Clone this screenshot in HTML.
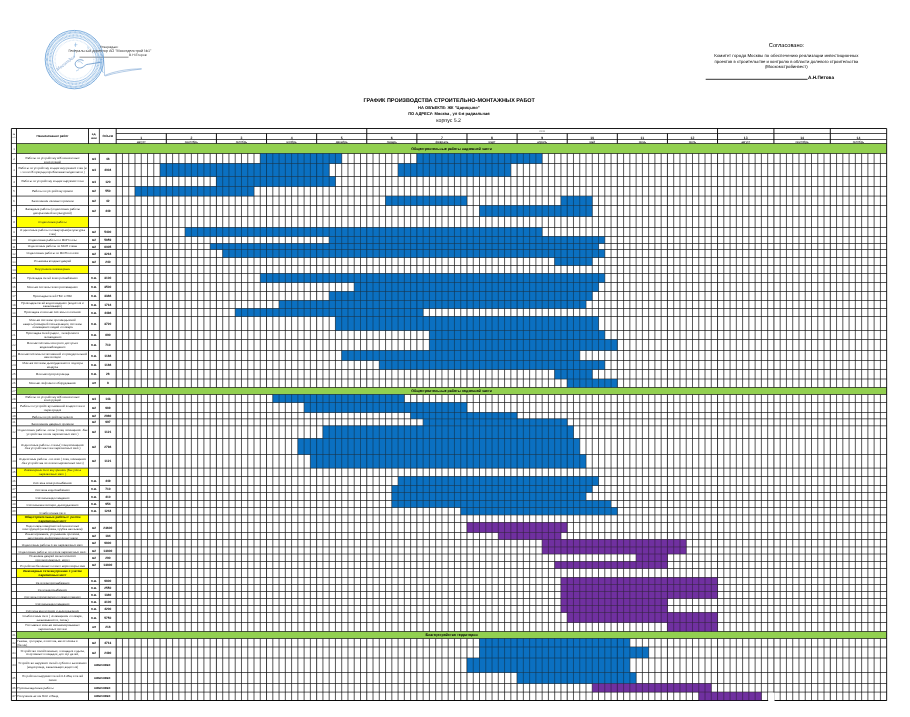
<!DOCTYPE html>
<html lang="ru"><head><meta charset="utf-8"><title>График производства строительно-монтажных работ</title>
<style>html,body{margin:0;padding:0;background:#fff}body{width:910px;height:717px;overflow:hidden}svg{display:block}</style></head><body>
<svg width="910" height="717" viewBox="0 0 910 717" font-family="'Liberation Sans', sans-serif">
<defs><filter id="gs" x="0" y="0" width="910" height="717" filterUnits="userSpaceOnUse" color-interpolation-filters="sRGB"><feColorMatrix type="saturate" values="1"/></filter></defs>
<rect width="910" height="717" fill="#fff"/>
<rect x="16.50" y="143.50" width="870.17" height="10.00" fill="#92d050"/>
<rect x="260.27" y="153.50" width="81.43" height="10.00" fill="#0b70c2"/>
<rect x="416.87" y="153.50" width="125.28" height="10.00" fill="#0b70c2"/>
<rect x="160.05" y="163.50" width="169.13" height="13.00" fill="#0b70c2"/>
<rect x="398.08" y="163.50" width="112.75" height="13.00" fill="#0b70c2"/>
<rect x="216.42" y="176.50" width="119.02" height="10.00" fill="#0b70c2"/>
<rect x="134.99" y="186.50" width="119.02" height="9.60" fill="#0b70c2"/>
<rect x="385.55" y="196.10" width="81.43" height="9.40" fill="#0b70c2"/>
<rect x="560.94" y="196.10" width="31.32" height="9.40" fill="#0b70c2"/>
<rect x="479.51" y="205.50" width="112.75" height="11.00" fill="#0b70c2"/>
<rect x="16.50" y="216.50" width="72.00" height="11.00" fill="#ffff00"/>
<rect x="185.10" y="227.50" width="357.05" height="9.00" fill="#0b70c2"/>
<rect x="329.18" y="236.50" width="275.62" height="7.00" fill="#0b70c2"/>
<rect x="210.16" y="243.50" width="388.37" height="6.00" fill="#0b70c2"/>
<rect x="222.69" y="249.50" width="382.10" height="8.00" fill="#0b70c2"/>
<rect x="554.68" y="257.50" width="37.58" height="8.00" fill="#0b70c2"/>
<rect x="16.50" y="265.50" width="72.00" height="8.00" fill="#ffff00"/>
<rect x="260.27" y="273.50" width="344.52" height="9.00" fill="#0b70c2"/>
<rect x="354.23" y="282.50" width="244.30" height="9.00" fill="#0b70c2"/>
<rect x="329.18" y="291.50" width="263.09" height="9.00" fill="#0b70c2"/>
<rect x="279.06" y="300.50" width="306.94" height="8.00" fill="#0b70c2"/>
<rect x="235.22" y="308.50" width="187.92" height="8.00" fill="#0b70c2"/>
<rect x="335.44" y="316.50" width="263.09" height="14.00" fill="#0b70c2"/>
<rect x="429.40" y="330.50" width="175.39" height="9.00" fill="#0b70c2"/>
<rect x="429.40" y="339.50" width="187.92" height="11.00" fill="#0b70c2"/>
<rect x="341.70" y="350.50" width="238.03" height="10.00" fill="#0b70c2"/>
<rect x="379.29" y="360.50" width="225.50" height="9.00" fill="#0b70c2"/>
<rect x="554.68" y="369.50" width="37.58" height="9.50" fill="#0b70c2"/>
<rect x="567.21" y="379.00" width="50.11" height="8.50" fill="#0b70c2"/>
<rect x="16.50" y="387.50" width="870.17" height="7.00" fill="#92d050"/>
<rect x="272.80" y="394.50" width="131.54" height="8.00" fill="#0b70c2"/>
<rect x="304.12" y="402.50" width="162.86" height="10.00" fill="#0b70c2"/>
<rect x="410.61" y="412.50" width="106.49" height="6.30" fill="#0b70c2"/>
<rect x="423.14" y="418.80" width="144.07" height="7.00" fill="#0b70c2"/>
<rect x="322.91" y="425.80" width="250.56" height="12.70" fill="#0b70c2"/>
<rect x="297.86" y="438.50" width="281.88" height="16.00" fill="#0b70c2"/>
<rect x="310.38" y="454.50" width="275.62" height="13.60" fill="#0b70c2"/>
<rect x="16.50" y="468.10" width="72.00" height="8.40" fill="#ffff00"/>
<rect x="398.08" y="476.50" width="200.45" height="9.00" fill="#0b70c2"/>
<rect x="391.82" y="485.50" width="200.45" height="7.00" fill="#0b70c2"/>
<rect x="391.82" y="492.50" width="194.18" height="8.00" fill="#0b70c2"/>
<rect x="391.82" y="500.50" width="219.24" height="7.00" fill="#0b70c2"/>
<rect x="460.72" y="507.50" width="156.60" height="7.40" fill="#0b70c2"/>
<rect x="16.50" y="514.90" width="72.00" height="7.60" fill="#ffff00"/>
<rect x="466.98" y="522.50" width="100.22" height="10.00" fill="#7030a0"/>
<rect x="498.30" y="532.50" width="62.64" height="7.00" fill="#7030a0"/>
<rect x="542.15" y="539.50" width="144.07" height="7.40" fill="#7030a0"/>
<rect x="542.15" y="546.90" width="144.07" height="7.10" fill="#7030a0"/>
<rect x="636.11" y="554.00" width="31.32" height="7.50" fill="#7030a0"/>
<rect x="554.68" y="561.50" width="112.75" height="7.00" fill="#7030a0"/>
<rect x="16.50" y="568.50" width="72.00" height="9.00" fill="#ffff00"/>
<rect x="560.94" y="577.50" width="156.60" height="7.00" fill="#7030a0"/>
<rect x="560.94" y="584.50" width="156.60" height="7.00" fill="#7030a0"/>
<rect x="560.94" y="591.50" width="156.60" height="7.00" fill="#7030a0"/>
<rect x="560.94" y="598.50" width="106.49" height="7.00" fill="#7030a0"/>
<rect x="560.94" y="605.50" width="106.49" height="7.00" fill="#7030a0"/>
<rect x="567.21" y="612.50" width="150.34" height="10.00" fill="#7030a0"/>
<rect x="667.43" y="622.50" width="50.11" height="9.00" fill="#7030a0"/>
<rect x="16.50" y="631.50" width="870.17" height="7.00" fill="#92d050"/>
<rect x="479.51" y="638.50" width="150.34" height="8.50" fill="#0b70c2"/>
<rect x="479.51" y="647.00" width="169.13" height="11.00" fill="#0b70c2"/>
<rect x="466.98" y="658.00" width="162.86" height="14.50" fill="#0b70c2"/>
<rect x="517.10" y="672.50" width="119.02" height="11.00" fill="#0b70c2"/>
<rect x="592.26" y="683.50" width="119.02" height="8.60" fill="#7030a0"/>
<rect x="698.75" y="692.10" width="62.64" height="8.40" fill="#7030a0"/>
<line x1="122.46" y1="153.50" x2="122.46" y2="387.50" stroke="#111" stroke-width="0.7"/>
<line x1="122.46" y1="394.50" x2="122.46" y2="631.50" stroke="#111" stroke-width="0.7"/>
<line x1="122.46" y1="638.50" x2="122.46" y2="700.50" stroke="#111" stroke-width="0.7"/>
<line x1="128.73" y1="153.50" x2="128.73" y2="387.50" stroke="#111" stroke-width="0.7"/>
<line x1="128.73" y1="394.50" x2="128.73" y2="631.50" stroke="#111" stroke-width="0.7"/>
<line x1="128.73" y1="638.50" x2="128.73" y2="700.50" stroke="#111" stroke-width="0.7"/>
<line x1="134.99" y1="153.50" x2="134.99" y2="387.50" stroke="#111" stroke-width="0.7"/>
<line x1="134.99" y1="394.50" x2="134.99" y2="631.50" stroke="#111" stroke-width="0.7"/>
<line x1="134.99" y1="638.50" x2="134.99" y2="700.50" stroke="#111" stroke-width="0.7"/>
<line x1="141.26" y1="153.50" x2="141.26" y2="387.50" stroke="#111" stroke-width="0.7"/>
<line x1="141.26" y1="394.50" x2="141.26" y2="631.50" stroke="#111" stroke-width="0.7"/>
<line x1="141.26" y1="638.50" x2="141.26" y2="700.50" stroke="#111" stroke-width="0.7"/>
<line x1="147.52" y1="153.50" x2="147.52" y2="387.50" stroke="#111" stroke-width="0.7"/>
<line x1="147.52" y1="394.50" x2="147.52" y2="631.50" stroke="#111" stroke-width="0.7"/>
<line x1="147.52" y1="638.50" x2="147.52" y2="700.50" stroke="#111" stroke-width="0.7"/>
<line x1="153.78" y1="153.50" x2="153.78" y2="387.50" stroke="#111" stroke-width="0.7"/>
<line x1="153.78" y1="394.50" x2="153.78" y2="631.50" stroke="#111" stroke-width="0.7"/>
<line x1="153.78" y1="638.50" x2="153.78" y2="700.50" stroke="#111" stroke-width="0.7"/>
<line x1="160.05" y1="153.50" x2="160.05" y2="387.50" stroke="#111" stroke-width="0.7"/>
<line x1="160.05" y1="394.50" x2="160.05" y2="631.50" stroke="#111" stroke-width="0.7"/>
<line x1="160.05" y1="638.50" x2="160.05" y2="700.50" stroke="#111" stroke-width="0.7"/>
<line x1="172.58" y1="153.50" x2="172.58" y2="387.50" stroke="#111" stroke-width="0.7"/>
<line x1="172.58" y1="394.50" x2="172.58" y2="631.50" stroke="#111" stroke-width="0.7"/>
<line x1="172.58" y1="638.50" x2="172.58" y2="700.50" stroke="#111" stroke-width="0.7"/>
<line x1="178.84" y1="153.50" x2="178.84" y2="387.50" stroke="#111" stroke-width="0.7"/>
<line x1="178.84" y1="394.50" x2="178.84" y2="631.50" stroke="#111" stroke-width="0.7"/>
<line x1="178.84" y1="638.50" x2="178.84" y2="700.50" stroke="#111" stroke-width="0.7"/>
<line x1="185.10" y1="153.50" x2="185.10" y2="387.50" stroke="#111" stroke-width="0.7"/>
<line x1="185.10" y1="394.50" x2="185.10" y2="631.50" stroke="#111" stroke-width="0.7"/>
<line x1="185.10" y1="638.50" x2="185.10" y2="700.50" stroke="#111" stroke-width="0.7"/>
<line x1="191.37" y1="153.50" x2="191.37" y2="387.50" stroke="#111" stroke-width="0.7"/>
<line x1="191.37" y1="394.50" x2="191.37" y2="631.50" stroke="#111" stroke-width="0.7"/>
<line x1="191.37" y1="638.50" x2="191.37" y2="700.50" stroke="#111" stroke-width="0.7"/>
<line x1="197.63" y1="153.50" x2="197.63" y2="387.50" stroke="#111" stroke-width="0.7"/>
<line x1="197.63" y1="394.50" x2="197.63" y2="631.50" stroke="#111" stroke-width="0.7"/>
<line x1="197.63" y1="638.50" x2="197.63" y2="700.50" stroke="#111" stroke-width="0.7"/>
<line x1="203.90" y1="153.50" x2="203.90" y2="387.50" stroke="#111" stroke-width="0.7"/>
<line x1="203.90" y1="394.50" x2="203.90" y2="631.50" stroke="#111" stroke-width="0.7"/>
<line x1="203.90" y1="638.50" x2="203.90" y2="700.50" stroke="#111" stroke-width="0.7"/>
<line x1="210.16" y1="153.50" x2="210.16" y2="387.50" stroke="#111" stroke-width="0.7"/>
<line x1="210.16" y1="394.50" x2="210.16" y2="631.50" stroke="#111" stroke-width="0.7"/>
<line x1="210.16" y1="638.50" x2="210.16" y2="700.50" stroke="#111" stroke-width="0.7"/>
<line x1="222.69" y1="153.50" x2="222.69" y2="387.50" stroke="#111" stroke-width="0.7"/>
<line x1="222.69" y1="394.50" x2="222.69" y2="631.50" stroke="#111" stroke-width="0.7"/>
<line x1="222.69" y1="638.50" x2="222.69" y2="700.50" stroke="#111" stroke-width="0.7"/>
<line x1="228.95" y1="153.50" x2="228.95" y2="387.50" stroke="#111" stroke-width="0.7"/>
<line x1="228.95" y1="394.50" x2="228.95" y2="631.50" stroke="#111" stroke-width="0.7"/>
<line x1="228.95" y1="638.50" x2="228.95" y2="700.50" stroke="#111" stroke-width="0.7"/>
<line x1="235.22" y1="153.50" x2="235.22" y2="387.50" stroke="#111" stroke-width="0.7"/>
<line x1="235.22" y1="394.50" x2="235.22" y2="631.50" stroke="#111" stroke-width="0.7"/>
<line x1="235.22" y1="638.50" x2="235.22" y2="700.50" stroke="#111" stroke-width="0.7"/>
<line x1="241.48" y1="153.50" x2="241.48" y2="387.50" stroke="#111" stroke-width="0.7"/>
<line x1="241.48" y1="394.50" x2="241.48" y2="631.50" stroke="#111" stroke-width="0.7"/>
<line x1="241.48" y1="638.50" x2="241.48" y2="700.50" stroke="#111" stroke-width="0.7"/>
<line x1="247.74" y1="153.50" x2="247.74" y2="387.50" stroke="#111" stroke-width="0.7"/>
<line x1="247.74" y1="394.50" x2="247.74" y2="631.50" stroke="#111" stroke-width="0.7"/>
<line x1="247.74" y1="638.50" x2="247.74" y2="700.50" stroke="#111" stroke-width="0.7"/>
<line x1="254.01" y1="153.50" x2="254.01" y2="387.50" stroke="#111" stroke-width="0.7"/>
<line x1="254.01" y1="394.50" x2="254.01" y2="631.50" stroke="#111" stroke-width="0.7"/>
<line x1="254.01" y1="638.50" x2="254.01" y2="700.50" stroke="#111" stroke-width="0.7"/>
<line x1="260.27" y1="153.50" x2="260.27" y2="387.50" stroke="#111" stroke-width="0.7"/>
<line x1="260.27" y1="394.50" x2="260.27" y2="631.50" stroke="#111" stroke-width="0.7"/>
<line x1="260.27" y1="638.50" x2="260.27" y2="700.50" stroke="#111" stroke-width="0.7"/>
<line x1="272.80" y1="153.50" x2="272.80" y2="387.50" stroke="#111" stroke-width="0.7"/>
<line x1="272.80" y1="394.50" x2="272.80" y2="631.50" stroke="#111" stroke-width="0.7"/>
<line x1="272.80" y1="638.50" x2="272.80" y2="700.50" stroke="#111" stroke-width="0.7"/>
<line x1="279.06" y1="153.50" x2="279.06" y2="387.50" stroke="#111" stroke-width="0.7"/>
<line x1="279.06" y1="394.50" x2="279.06" y2="631.50" stroke="#111" stroke-width="0.7"/>
<line x1="279.06" y1="638.50" x2="279.06" y2="700.50" stroke="#111" stroke-width="0.7"/>
<line x1="285.33" y1="153.50" x2="285.33" y2="387.50" stroke="#111" stroke-width="0.7"/>
<line x1="285.33" y1="394.50" x2="285.33" y2="631.50" stroke="#111" stroke-width="0.7"/>
<line x1="285.33" y1="638.50" x2="285.33" y2="700.50" stroke="#111" stroke-width="0.7"/>
<line x1="291.59" y1="153.50" x2="291.59" y2="387.50" stroke="#111" stroke-width="0.7"/>
<line x1="291.59" y1="394.50" x2="291.59" y2="631.50" stroke="#111" stroke-width="0.7"/>
<line x1="291.59" y1="638.50" x2="291.59" y2="700.50" stroke="#111" stroke-width="0.7"/>
<line x1="297.86" y1="153.50" x2="297.86" y2="387.50" stroke="#111" stroke-width="0.7"/>
<line x1="297.86" y1="394.50" x2="297.86" y2="631.50" stroke="#111" stroke-width="0.7"/>
<line x1="297.86" y1="638.50" x2="297.86" y2="700.50" stroke="#111" stroke-width="0.7"/>
<line x1="304.12" y1="153.50" x2="304.12" y2="387.50" stroke="#111" stroke-width="0.7"/>
<line x1="304.12" y1="394.50" x2="304.12" y2="631.50" stroke="#111" stroke-width="0.7"/>
<line x1="304.12" y1="638.50" x2="304.12" y2="700.50" stroke="#111" stroke-width="0.7"/>
<line x1="310.38" y1="153.50" x2="310.38" y2="387.50" stroke="#111" stroke-width="0.7"/>
<line x1="310.38" y1="394.50" x2="310.38" y2="631.50" stroke="#111" stroke-width="0.7"/>
<line x1="310.38" y1="638.50" x2="310.38" y2="700.50" stroke="#111" stroke-width="0.7"/>
<line x1="322.91" y1="153.50" x2="322.91" y2="387.50" stroke="#111" stroke-width="0.7"/>
<line x1="322.91" y1="394.50" x2="322.91" y2="631.50" stroke="#111" stroke-width="0.7"/>
<line x1="322.91" y1="638.50" x2="322.91" y2="700.50" stroke="#111" stroke-width="0.7"/>
<line x1="329.18" y1="153.50" x2="329.18" y2="387.50" stroke="#111" stroke-width="0.7"/>
<line x1="329.18" y1="394.50" x2="329.18" y2="631.50" stroke="#111" stroke-width="0.7"/>
<line x1="329.18" y1="638.50" x2="329.18" y2="700.50" stroke="#111" stroke-width="0.7"/>
<line x1="335.44" y1="153.50" x2="335.44" y2="387.50" stroke="#111" stroke-width="0.7"/>
<line x1="335.44" y1="394.50" x2="335.44" y2="631.50" stroke="#111" stroke-width="0.7"/>
<line x1="335.44" y1="638.50" x2="335.44" y2="700.50" stroke="#111" stroke-width="0.7"/>
<line x1="341.70" y1="153.50" x2="341.70" y2="387.50" stroke="#111" stroke-width="0.7"/>
<line x1="341.70" y1="394.50" x2="341.70" y2="631.50" stroke="#111" stroke-width="0.7"/>
<line x1="341.70" y1="638.50" x2="341.70" y2="700.50" stroke="#111" stroke-width="0.7"/>
<line x1="347.97" y1="153.50" x2="347.97" y2="387.50" stroke="#111" stroke-width="0.7"/>
<line x1="347.97" y1="394.50" x2="347.97" y2="631.50" stroke="#111" stroke-width="0.7"/>
<line x1="347.97" y1="638.50" x2="347.97" y2="700.50" stroke="#111" stroke-width="0.7"/>
<line x1="354.23" y1="153.50" x2="354.23" y2="387.50" stroke="#111" stroke-width="0.7"/>
<line x1="354.23" y1="394.50" x2="354.23" y2="631.50" stroke="#111" stroke-width="0.7"/>
<line x1="354.23" y1="638.50" x2="354.23" y2="700.50" stroke="#111" stroke-width="0.7"/>
<line x1="360.50" y1="153.50" x2="360.50" y2="387.50" stroke="#111" stroke-width="0.7"/>
<line x1="360.50" y1="394.50" x2="360.50" y2="631.50" stroke="#111" stroke-width="0.7"/>
<line x1="360.50" y1="638.50" x2="360.50" y2="700.50" stroke="#111" stroke-width="0.7"/>
<line x1="373.02" y1="153.50" x2="373.02" y2="387.50" stroke="#111" stroke-width="0.7"/>
<line x1="373.02" y1="394.50" x2="373.02" y2="631.50" stroke="#111" stroke-width="0.7"/>
<line x1="373.02" y1="638.50" x2="373.02" y2="700.50" stroke="#111" stroke-width="0.7"/>
<line x1="379.29" y1="153.50" x2="379.29" y2="387.50" stroke="#111" stroke-width="0.7"/>
<line x1="379.29" y1="394.50" x2="379.29" y2="631.50" stroke="#111" stroke-width="0.7"/>
<line x1="379.29" y1="638.50" x2="379.29" y2="700.50" stroke="#111" stroke-width="0.7"/>
<line x1="385.55" y1="153.50" x2="385.55" y2="387.50" stroke="#111" stroke-width="0.7"/>
<line x1="385.55" y1="394.50" x2="385.55" y2="631.50" stroke="#111" stroke-width="0.7"/>
<line x1="385.55" y1="638.50" x2="385.55" y2="700.50" stroke="#111" stroke-width="0.7"/>
<line x1="391.82" y1="153.50" x2="391.82" y2="387.50" stroke="#111" stroke-width="0.7"/>
<line x1="391.82" y1="394.50" x2="391.82" y2="631.50" stroke="#111" stroke-width="0.7"/>
<line x1="391.82" y1="638.50" x2="391.82" y2="700.50" stroke="#111" stroke-width="0.7"/>
<line x1="398.08" y1="153.50" x2="398.08" y2="387.50" stroke="#111" stroke-width="0.7"/>
<line x1="398.08" y1="394.50" x2="398.08" y2="631.50" stroke="#111" stroke-width="0.7"/>
<line x1="398.08" y1="638.50" x2="398.08" y2="700.50" stroke="#111" stroke-width="0.7"/>
<line x1="404.34" y1="153.50" x2="404.34" y2="387.50" stroke="#111" stroke-width="0.7"/>
<line x1="404.34" y1="394.50" x2="404.34" y2="631.50" stroke="#111" stroke-width="0.7"/>
<line x1="404.34" y1="638.50" x2="404.34" y2="700.50" stroke="#111" stroke-width="0.7"/>
<line x1="410.61" y1="153.50" x2="410.61" y2="387.50" stroke="#111" stroke-width="0.7"/>
<line x1="410.61" y1="394.50" x2="410.61" y2="631.50" stroke="#111" stroke-width="0.7"/>
<line x1="410.61" y1="638.50" x2="410.61" y2="700.50" stroke="#111" stroke-width="0.7"/>
<line x1="423.14" y1="153.50" x2="423.14" y2="387.50" stroke="#111" stroke-width="0.7"/>
<line x1="423.14" y1="394.50" x2="423.14" y2="631.50" stroke="#111" stroke-width="0.7"/>
<line x1="423.14" y1="638.50" x2="423.14" y2="700.50" stroke="#111" stroke-width="0.7"/>
<line x1="429.40" y1="153.50" x2="429.40" y2="387.50" stroke="#111" stroke-width="0.7"/>
<line x1="429.40" y1="394.50" x2="429.40" y2="631.50" stroke="#111" stroke-width="0.7"/>
<line x1="429.40" y1="638.50" x2="429.40" y2="700.50" stroke="#111" stroke-width="0.7"/>
<line x1="435.66" y1="153.50" x2="435.66" y2="387.50" stroke="#111" stroke-width="0.7"/>
<line x1="435.66" y1="394.50" x2="435.66" y2="631.50" stroke="#111" stroke-width="0.7"/>
<line x1="435.66" y1="638.50" x2="435.66" y2="700.50" stroke="#111" stroke-width="0.7"/>
<line x1="441.93" y1="153.50" x2="441.93" y2="387.50" stroke="#111" stroke-width="0.7"/>
<line x1="441.93" y1="394.50" x2="441.93" y2="631.50" stroke="#111" stroke-width="0.7"/>
<line x1="441.93" y1="638.50" x2="441.93" y2="700.50" stroke="#111" stroke-width="0.7"/>
<line x1="448.19" y1="153.50" x2="448.19" y2="387.50" stroke="#111" stroke-width="0.7"/>
<line x1="448.19" y1="394.50" x2="448.19" y2="631.50" stroke="#111" stroke-width="0.7"/>
<line x1="448.19" y1="638.50" x2="448.19" y2="700.50" stroke="#111" stroke-width="0.7"/>
<line x1="454.46" y1="153.50" x2="454.46" y2="387.50" stroke="#111" stroke-width="0.7"/>
<line x1="454.46" y1="394.50" x2="454.46" y2="631.50" stroke="#111" stroke-width="0.7"/>
<line x1="454.46" y1="638.50" x2="454.46" y2="700.50" stroke="#111" stroke-width="0.7"/>
<line x1="460.72" y1="153.50" x2="460.72" y2="387.50" stroke="#111" stroke-width="0.7"/>
<line x1="460.72" y1="394.50" x2="460.72" y2="631.50" stroke="#111" stroke-width="0.7"/>
<line x1="460.72" y1="638.50" x2="460.72" y2="700.50" stroke="#111" stroke-width="0.7"/>
<line x1="473.25" y1="153.50" x2="473.25" y2="387.50" stroke="#111" stroke-width="0.7"/>
<line x1="473.25" y1="394.50" x2="473.25" y2="631.50" stroke="#111" stroke-width="0.7"/>
<line x1="473.25" y1="638.50" x2="473.25" y2="700.50" stroke="#111" stroke-width="0.7"/>
<line x1="479.51" y1="153.50" x2="479.51" y2="387.50" stroke="#111" stroke-width="0.7"/>
<line x1="479.51" y1="394.50" x2="479.51" y2="631.50" stroke="#111" stroke-width="0.7"/>
<line x1="479.51" y1="638.50" x2="479.51" y2="700.50" stroke="#111" stroke-width="0.7"/>
<line x1="485.78" y1="153.50" x2="485.78" y2="387.50" stroke="#111" stroke-width="0.7"/>
<line x1="485.78" y1="394.50" x2="485.78" y2="631.50" stroke="#111" stroke-width="0.7"/>
<line x1="485.78" y1="638.50" x2="485.78" y2="700.50" stroke="#111" stroke-width="0.7"/>
<line x1="492.04" y1="153.50" x2="492.04" y2="387.50" stroke="#111" stroke-width="0.7"/>
<line x1="492.04" y1="394.50" x2="492.04" y2="631.50" stroke="#111" stroke-width="0.7"/>
<line x1="492.04" y1="638.50" x2="492.04" y2="700.50" stroke="#111" stroke-width="0.7"/>
<line x1="498.30" y1="153.50" x2="498.30" y2="387.50" stroke="#111" stroke-width="0.7"/>
<line x1="498.30" y1="394.50" x2="498.30" y2="631.50" stroke="#111" stroke-width="0.7"/>
<line x1="498.30" y1="638.50" x2="498.30" y2="700.50" stroke="#111" stroke-width="0.7"/>
<line x1="504.57" y1="153.50" x2="504.57" y2="387.50" stroke="#111" stroke-width="0.7"/>
<line x1="504.57" y1="394.50" x2="504.57" y2="631.50" stroke="#111" stroke-width="0.7"/>
<line x1="504.57" y1="638.50" x2="504.57" y2="700.50" stroke="#111" stroke-width="0.7"/>
<line x1="510.83" y1="153.50" x2="510.83" y2="387.50" stroke="#111" stroke-width="0.7"/>
<line x1="510.83" y1="394.50" x2="510.83" y2="631.50" stroke="#111" stroke-width="0.7"/>
<line x1="510.83" y1="638.50" x2="510.83" y2="700.50" stroke="#111" stroke-width="0.7"/>
<line x1="523.36" y1="153.50" x2="523.36" y2="387.50" stroke="#111" stroke-width="0.7"/>
<line x1="523.36" y1="394.50" x2="523.36" y2="631.50" stroke="#111" stroke-width="0.7"/>
<line x1="523.36" y1="638.50" x2="523.36" y2="700.50" stroke="#111" stroke-width="0.7"/>
<line x1="529.62" y1="153.50" x2="529.62" y2="387.50" stroke="#111" stroke-width="0.7"/>
<line x1="529.62" y1="394.50" x2="529.62" y2="631.50" stroke="#111" stroke-width="0.7"/>
<line x1="529.62" y1="638.50" x2="529.62" y2="700.50" stroke="#111" stroke-width="0.7"/>
<line x1="535.89" y1="153.50" x2="535.89" y2="387.50" stroke="#111" stroke-width="0.7"/>
<line x1="535.89" y1="394.50" x2="535.89" y2="631.50" stroke="#111" stroke-width="0.7"/>
<line x1="535.89" y1="638.50" x2="535.89" y2="700.50" stroke="#111" stroke-width="0.7"/>
<line x1="542.15" y1="153.50" x2="542.15" y2="387.50" stroke="#111" stroke-width="0.7"/>
<line x1="542.15" y1="394.50" x2="542.15" y2="631.50" stroke="#111" stroke-width="0.7"/>
<line x1="542.15" y1="638.50" x2="542.15" y2="700.50" stroke="#111" stroke-width="0.7"/>
<line x1="548.42" y1="153.50" x2="548.42" y2="387.50" stroke="#111" stroke-width="0.7"/>
<line x1="548.42" y1="394.50" x2="548.42" y2="631.50" stroke="#111" stroke-width="0.7"/>
<line x1="548.42" y1="638.50" x2="548.42" y2="700.50" stroke="#111" stroke-width="0.7"/>
<line x1="554.68" y1="153.50" x2="554.68" y2="387.50" stroke="#111" stroke-width="0.7"/>
<line x1="554.68" y1="394.50" x2="554.68" y2="631.50" stroke="#111" stroke-width="0.7"/>
<line x1="554.68" y1="638.50" x2="554.68" y2="700.50" stroke="#111" stroke-width="0.7"/>
<line x1="560.94" y1="153.50" x2="560.94" y2="387.50" stroke="#111" stroke-width="0.7"/>
<line x1="560.94" y1="394.50" x2="560.94" y2="631.50" stroke="#111" stroke-width="0.7"/>
<line x1="560.94" y1="638.50" x2="560.94" y2="700.50" stroke="#111" stroke-width="0.7"/>
<line x1="573.47" y1="153.50" x2="573.47" y2="387.50" stroke="#111" stroke-width="0.7"/>
<line x1="573.47" y1="394.50" x2="573.47" y2="631.50" stroke="#111" stroke-width="0.7"/>
<line x1="573.47" y1="638.50" x2="573.47" y2="700.50" stroke="#111" stroke-width="0.7"/>
<line x1="579.74" y1="153.50" x2="579.74" y2="387.50" stroke="#111" stroke-width="0.7"/>
<line x1="579.74" y1="394.50" x2="579.74" y2="631.50" stroke="#111" stroke-width="0.7"/>
<line x1="579.74" y1="638.50" x2="579.74" y2="700.50" stroke="#111" stroke-width="0.7"/>
<line x1="586.00" y1="153.50" x2="586.00" y2="387.50" stroke="#111" stroke-width="0.7"/>
<line x1="586.00" y1="394.50" x2="586.00" y2="631.50" stroke="#111" stroke-width="0.7"/>
<line x1="586.00" y1="638.50" x2="586.00" y2="700.50" stroke="#111" stroke-width="0.7"/>
<line x1="592.26" y1="153.50" x2="592.26" y2="387.50" stroke="#111" stroke-width="0.7"/>
<line x1="592.26" y1="394.50" x2="592.26" y2="631.50" stroke="#111" stroke-width="0.7"/>
<line x1="592.26" y1="638.50" x2="592.26" y2="700.50" stroke="#111" stroke-width="0.7"/>
<line x1="598.53" y1="153.50" x2="598.53" y2="387.50" stroke="#111" stroke-width="0.7"/>
<line x1="598.53" y1="394.50" x2="598.53" y2="631.50" stroke="#111" stroke-width="0.7"/>
<line x1="598.53" y1="638.50" x2="598.53" y2="700.50" stroke="#111" stroke-width="0.7"/>
<line x1="604.79" y1="153.50" x2="604.79" y2="387.50" stroke="#111" stroke-width="0.7"/>
<line x1="604.79" y1="394.50" x2="604.79" y2="631.50" stroke="#111" stroke-width="0.7"/>
<line x1="604.79" y1="638.50" x2="604.79" y2="700.50" stroke="#111" stroke-width="0.7"/>
<line x1="611.06" y1="153.50" x2="611.06" y2="387.50" stroke="#111" stroke-width="0.7"/>
<line x1="611.06" y1="394.50" x2="611.06" y2="631.50" stroke="#111" stroke-width="0.7"/>
<line x1="611.06" y1="638.50" x2="611.06" y2="700.50" stroke="#111" stroke-width="0.7"/>
<line x1="623.58" y1="153.50" x2="623.58" y2="387.50" stroke="#111" stroke-width="0.7"/>
<line x1="623.58" y1="394.50" x2="623.58" y2="631.50" stroke="#111" stroke-width="0.7"/>
<line x1="623.58" y1="638.50" x2="623.58" y2="700.50" stroke="#111" stroke-width="0.7"/>
<line x1="629.85" y1="153.50" x2="629.85" y2="387.50" stroke="#111" stroke-width="0.7"/>
<line x1="629.85" y1="394.50" x2="629.85" y2="631.50" stroke="#111" stroke-width="0.7"/>
<line x1="629.85" y1="638.50" x2="629.85" y2="700.50" stroke="#111" stroke-width="0.7"/>
<line x1="636.11" y1="153.50" x2="636.11" y2="387.50" stroke="#111" stroke-width="0.7"/>
<line x1="636.11" y1="394.50" x2="636.11" y2="631.50" stroke="#111" stroke-width="0.7"/>
<line x1="636.11" y1="638.50" x2="636.11" y2="700.50" stroke="#111" stroke-width="0.7"/>
<line x1="642.38" y1="153.50" x2="642.38" y2="387.50" stroke="#111" stroke-width="0.7"/>
<line x1="642.38" y1="394.50" x2="642.38" y2="631.50" stroke="#111" stroke-width="0.7"/>
<line x1="642.38" y1="638.50" x2="642.38" y2="700.50" stroke="#111" stroke-width="0.7"/>
<line x1="648.64" y1="153.50" x2="648.64" y2="387.50" stroke="#111" stroke-width="0.7"/>
<line x1="648.64" y1="394.50" x2="648.64" y2="631.50" stroke="#111" stroke-width="0.7"/>
<line x1="648.64" y1="638.50" x2="648.64" y2="700.50" stroke="#111" stroke-width="0.7"/>
<line x1="654.90" y1="153.50" x2="654.90" y2="387.50" stroke="#111" stroke-width="0.7"/>
<line x1="654.90" y1="394.50" x2="654.90" y2="631.50" stroke="#111" stroke-width="0.7"/>
<line x1="654.90" y1="638.50" x2="654.90" y2="700.50" stroke="#111" stroke-width="0.7"/>
<line x1="661.17" y1="153.50" x2="661.17" y2="387.50" stroke="#111" stroke-width="0.7"/>
<line x1="661.17" y1="394.50" x2="661.17" y2="631.50" stroke="#111" stroke-width="0.7"/>
<line x1="661.17" y1="638.50" x2="661.17" y2="700.50" stroke="#111" stroke-width="0.7"/>
<line x1="673.70" y1="153.50" x2="673.70" y2="387.50" stroke="#111" stroke-width="0.7"/>
<line x1="673.70" y1="394.50" x2="673.70" y2="631.50" stroke="#111" stroke-width="0.7"/>
<line x1="673.70" y1="638.50" x2="673.70" y2="700.50" stroke="#111" stroke-width="0.7"/>
<line x1="679.96" y1="153.50" x2="679.96" y2="387.50" stroke="#111" stroke-width="0.7"/>
<line x1="679.96" y1="394.50" x2="679.96" y2="631.50" stroke="#111" stroke-width="0.7"/>
<line x1="679.96" y1="638.50" x2="679.96" y2="700.50" stroke="#111" stroke-width="0.7"/>
<line x1="686.22" y1="153.50" x2="686.22" y2="387.50" stroke="#111" stroke-width="0.7"/>
<line x1="686.22" y1="394.50" x2="686.22" y2="631.50" stroke="#111" stroke-width="0.7"/>
<line x1="686.22" y1="638.50" x2="686.22" y2="700.50" stroke="#111" stroke-width="0.7"/>
<line x1="692.49" y1="153.50" x2="692.49" y2="387.50" stroke="#111" stroke-width="0.7"/>
<line x1="692.49" y1="394.50" x2="692.49" y2="631.50" stroke="#111" stroke-width="0.7"/>
<line x1="692.49" y1="638.50" x2="692.49" y2="700.50" stroke="#111" stroke-width="0.7"/>
<line x1="698.75" y1="153.50" x2="698.75" y2="387.50" stroke="#111" stroke-width="0.7"/>
<line x1="698.75" y1="394.50" x2="698.75" y2="631.50" stroke="#111" stroke-width="0.7"/>
<line x1="698.75" y1="638.50" x2="698.75" y2="700.50" stroke="#111" stroke-width="0.7"/>
<line x1="705.02" y1="153.50" x2="705.02" y2="387.50" stroke="#111" stroke-width="0.7"/>
<line x1="705.02" y1="394.50" x2="705.02" y2="631.50" stroke="#111" stroke-width="0.7"/>
<line x1="705.02" y1="638.50" x2="705.02" y2="700.50" stroke="#111" stroke-width="0.7"/>
<line x1="711.28" y1="153.50" x2="711.28" y2="387.50" stroke="#111" stroke-width="0.7"/>
<line x1="711.28" y1="394.50" x2="711.28" y2="631.50" stroke="#111" stroke-width="0.7"/>
<line x1="711.28" y1="638.50" x2="711.28" y2="700.50" stroke="#111" stroke-width="0.7"/>
<line x1="723.81" y1="153.50" x2="723.81" y2="387.50" stroke="#111" stroke-width="0.7"/>
<line x1="723.81" y1="394.50" x2="723.81" y2="631.50" stroke="#111" stroke-width="0.7"/>
<line x1="723.81" y1="638.50" x2="723.81" y2="700.50" stroke="#111" stroke-width="0.7"/>
<line x1="730.07" y1="153.50" x2="730.07" y2="387.50" stroke="#111" stroke-width="0.7"/>
<line x1="730.07" y1="394.50" x2="730.07" y2="631.50" stroke="#111" stroke-width="0.7"/>
<line x1="730.07" y1="638.50" x2="730.07" y2="700.50" stroke="#111" stroke-width="0.7"/>
<line x1="736.34" y1="153.50" x2="736.34" y2="387.50" stroke="#111" stroke-width="0.7"/>
<line x1="736.34" y1="394.50" x2="736.34" y2="631.50" stroke="#111" stroke-width="0.7"/>
<line x1="736.34" y1="638.50" x2="736.34" y2="700.50" stroke="#111" stroke-width="0.7"/>
<line x1="742.60" y1="153.50" x2="742.60" y2="387.50" stroke="#111" stroke-width="0.7"/>
<line x1="742.60" y1="394.50" x2="742.60" y2="631.50" stroke="#111" stroke-width="0.7"/>
<line x1="742.60" y1="638.50" x2="742.60" y2="700.50" stroke="#111" stroke-width="0.7"/>
<line x1="748.86" y1="153.50" x2="748.86" y2="387.50" stroke="#111" stroke-width="0.7"/>
<line x1="748.86" y1="394.50" x2="748.86" y2="631.50" stroke="#111" stroke-width="0.7"/>
<line x1="748.86" y1="638.50" x2="748.86" y2="700.50" stroke="#111" stroke-width="0.7"/>
<line x1="755.13" y1="153.50" x2="755.13" y2="387.50" stroke="#111" stroke-width="0.7"/>
<line x1="755.13" y1="394.50" x2="755.13" y2="631.50" stroke="#111" stroke-width="0.7"/>
<line x1="755.13" y1="638.50" x2="755.13" y2="700.50" stroke="#111" stroke-width="0.7"/>
<line x1="761.39" y1="153.50" x2="761.39" y2="387.50" stroke="#111" stroke-width="0.7"/>
<line x1="761.39" y1="394.50" x2="761.39" y2="631.50" stroke="#111" stroke-width="0.7"/>
<line x1="761.39" y1="638.50" x2="761.39" y2="700.50" stroke="#111" stroke-width="0.7"/>
<line x1="767.66" y1="153.50" x2="767.66" y2="387.50" stroke="#111" stroke-width="0.7"/>
<line x1="767.66" y1="394.50" x2="767.66" y2="631.50" stroke="#111" stroke-width="0.7"/>
<line x1="767.66" y1="638.50" x2="767.66" y2="700.50" stroke="#111" stroke-width="0.7"/>
<line x1="780.18" y1="153.50" x2="780.18" y2="387.50" stroke="#111" stroke-width="0.7"/>
<line x1="780.18" y1="394.50" x2="780.18" y2="631.50" stroke="#111" stroke-width="0.7"/>
<line x1="780.18" y1="638.50" x2="780.18" y2="700.50" stroke="#111" stroke-width="0.7"/>
<line x1="786.45" y1="153.50" x2="786.45" y2="387.50" stroke="#111" stroke-width="0.7"/>
<line x1="786.45" y1="394.50" x2="786.45" y2="631.50" stroke="#111" stroke-width="0.7"/>
<line x1="786.45" y1="638.50" x2="786.45" y2="700.50" stroke="#111" stroke-width="0.7"/>
<line x1="792.71" y1="153.50" x2="792.71" y2="387.50" stroke="#111" stroke-width="0.7"/>
<line x1="792.71" y1="394.50" x2="792.71" y2="631.50" stroke="#111" stroke-width="0.7"/>
<line x1="792.71" y1="638.50" x2="792.71" y2="700.50" stroke="#111" stroke-width="0.7"/>
<line x1="798.98" y1="153.50" x2="798.98" y2="387.50" stroke="#111" stroke-width="0.7"/>
<line x1="798.98" y1="394.50" x2="798.98" y2="631.50" stroke="#111" stroke-width="0.7"/>
<line x1="798.98" y1="638.50" x2="798.98" y2="700.50" stroke="#111" stroke-width="0.7"/>
<line x1="805.24" y1="153.50" x2="805.24" y2="387.50" stroke="#111" stroke-width="0.7"/>
<line x1="805.24" y1="394.50" x2="805.24" y2="631.50" stroke="#111" stroke-width="0.7"/>
<line x1="805.24" y1="638.50" x2="805.24" y2="700.50" stroke="#111" stroke-width="0.7"/>
<line x1="811.50" y1="153.50" x2="811.50" y2="387.50" stroke="#111" stroke-width="0.7"/>
<line x1="811.50" y1="394.50" x2="811.50" y2="631.50" stroke="#111" stroke-width="0.7"/>
<line x1="811.50" y1="638.50" x2="811.50" y2="700.50" stroke="#111" stroke-width="0.7"/>
<line x1="817.77" y1="153.50" x2="817.77" y2="387.50" stroke="#111" stroke-width="0.7"/>
<line x1="817.77" y1="394.50" x2="817.77" y2="631.50" stroke="#111" stroke-width="0.7"/>
<line x1="817.77" y1="638.50" x2="817.77" y2="700.50" stroke="#111" stroke-width="0.7"/>
<line x1="824.03" y1="153.50" x2="824.03" y2="387.50" stroke="#111" stroke-width="0.7"/>
<line x1="824.03" y1="394.50" x2="824.03" y2="631.50" stroke="#111" stroke-width="0.7"/>
<line x1="824.03" y1="638.50" x2="824.03" y2="700.50" stroke="#111" stroke-width="0.7"/>
<line x1="836.56" y1="153.50" x2="836.56" y2="387.50" stroke="#111" stroke-width="0.7"/>
<line x1="836.56" y1="394.50" x2="836.56" y2="631.50" stroke="#111" stroke-width="0.7"/>
<line x1="836.56" y1="638.50" x2="836.56" y2="700.50" stroke="#111" stroke-width="0.7"/>
<line x1="842.82" y1="153.50" x2="842.82" y2="387.50" stroke="#111" stroke-width="0.7"/>
<line x1="842.82" y1="394.50" x2="842.82" y2="631.50" stroke="#111" stroke-width="0.7"/>
<line x1="842.82" y1="638.50" x2="842.82" y2="700.50" stroke="#111" stroke-width="0.7"/>
<line x1="849.09" y1="153.50" x2="849.09" y2="387.50" stroke="#111" stroke-width="0.7"/>
<line x1="849.09" y1="394.50" x2="849.09" y2="631.50" stroke="#111" stroke-width="0.7"/>
<line x1="849.09" y1="638.50" x2="849.09" y2="700.50" stroke="#111" stroke-width="0.7"/>
<line x1="855.35" y1="153.50" x2="855.35" y2="387.50" stroke="#111" stroke-width="0.7"/>
<line x1="855.35" y1="394.50" x2="855.35" y2="631.50" stroke="#111" stroke-width="0.7"/>
<line x1="855.35" y1="638.50" x2="855.35" y2="700.50" stroke="#111" stroke-width="0.7"/>
<line x1="861.62" y1="153.50" x2="861.62" y2="387.50" stroke="#111" stroke-width="0.7"/>
<line x1="861.62" y1="394.50" x2="861.62" y2="631.50" stroke="#111" stroke-width="0.7"/>
<line x1="861.62" y1="638.50" x2="861.62" y2="700.50" stroke="#111" stroke-width="0.7"/>
<line x1="867.88" y1="153.50" x2="867.88" y2="387.50" stroke="#111" stroke-width="0.7"/>
<line x1="867.88" y1="394.50" x2="867.88" y2="631.50" stroke="#111" stroke-width="0.7"/>
<line x1="867.88" y1="638.50" x2="867.88" y2="700.50" stroke="#111" stroke-width="0.7"/>
<line x1="874.14" y1="153.50" x2="874.14" y2="387.50" stroke="#111" stroke-width="0.7"/>
<line x1="874.14" y1="394.50" x2="874.14" y2="631.50" stroke="#111" stroke-width="0.7"/>
<line x1="874.14" y1="638.50" x2="874.14" y2="700.50" stroke="#111" stroke-width="0.7"/>
<line x1="880.41" y1="153.50" x2="880.41" y2="387.50" stroke="#111" stroke-width="0.7"/>
<line x1="880.41" y1="394.50" x2="880.41" y2="631.50" stroke="#111" stroke-width="0.7"/>
<line x1="880.41" y1="638.50" x2="880.41" y2="700.50" stroke="#111" stroke-width="0.7"/>
<line x1="166.31" y1="153.50" x2="166.31" y2="387.50" stroke="#000" stroke-width="0.78"/>
<line x1="166.31" y1="394.50" x2="166.31" y2="631.50" stroke="#000" stroke-width="0.78"/>
<line x1="166.31" y1="638.50" x2="166.31" y2="700.50" stroke="#000" stroke-width="0.78"/>
<line x1="166.31" y1="133.50" x2="166.31" y2="143.50" stroke="#000" stroke-width="0.95"/>
<line x1="216.42" y1="153.50" x2="216.42" y2="387.50" stroke="#000" stroke-width="0.78"/>
<line x1="216.42" y1="394.50" x2="216.42" y2="631.50" stroke="#000" stroke-width="0.78"/>
<line x1="216.42" y1="638.50" x2="216.42" y2="700.50" stroke="#000" stroke-width="0.78"/>
<line x1="216.42" y1="133.50" x2="216.42" y2="143.50" stroke="#000" stroke-width="0.95"/>
<line x1="266.54" y1="153.50" x2="266.54" y2="387.50" stroke="#000" stroke-width="0.78"/>
<line x1="266.54" y1="394.50" x2="266.54" y2="631.50" stroke="#000" stroke-width="0.78"/>
<line x1="266.54" y1="638.50" x2="266.54" y2="700.50" stroke="#000" stroke-width="0.78"/>
<line x1="266.54" y1="133.50" x2="266.54" y2="143.50" stroke="#000" stroke-width="0.95"/>
<line x1="316.65" y1="153.50" x2="316.65" y2="387.50" stroke="#000" stroke-width="0.78"/>
<line x1="316.65" y1="394.50" x2="316.65" y2="631.50" stroke="#000" stroke-width="0.78"/>
<line x1="316.65" y1="638.50" x2="316.65" y2="700.50" stroke="#000" stroke-width="0.78"/>
<line x1="316.65" y1="133.50" x2="316.65" y2="143.50" stroke="#000" stroke-width="0.95"/>
<line x1="366.76" y1="153.50" x2="366.76" y2="387.50" stroke="#000" stroke-width="0.78"/>
<line x1="366.76" y1="394.50" x2="366.76" y2="631.50" stroke="#000" stroke-width="0.78"/>
<line x1="366.76" y1="638.50" x2="366.76" y2="700.50" stroke="#000" stroke-width="0.78"/>
<line x1="366.76" y1="133.50" x2="366.76" y2="143.50" stroke="#000" stroke-width="0.95"/>
<line x1="416.87" y1="153.50" x2="416.87" y2="387.50" stroke="#000" stroke-width="0.78"/>
<line x1="416.87" y1="394.50" x2="416.87" y2="631.50" stroke="#000" stroke-width="0.78"/>
<line x1="416.87" y1="638.50" x2="416.87" y2="700.50" stroke="#000" stroke-width="0.78"/>
<line x1="416.87" y1="133.50" x2="416.87" y2="143.50" stroke="#000" stroke-width="0.95"/>
<line x1="466.98" y1="153.50" x2="466.98" y2="387.50" stroke="#000" stroke-width="0.78"/>
<line x1="466.98" y1="394.50" x2="466.98" y2="631.50" stroke="#000" stroke-width="0.78"/>
<line x1="466.98" y1="638.50" x2="466.98" y2="700.50" stroke="#000" stroke-width="0.78"/>
<line x1="466.98" y1="133.50" x2="466.98" y2="143.50" stroke="#000" stroke-width="0.95"/>
<line x1="517.10" y1="153.50" x2="517.10" y2="387.50" stroke="#000" stroke-width="0.78"/>
<line x1="517.10" y1="394.50" x2="517.10" y2="631.50" stroke="#000" stroke-width="0.78"/>
<line x1="517.10" y1="638.50" x2="517.10" y2="700.50" stroke="#000" stroke-width="0.78"/>
<line x1="517.10" y1="133.50" x2="517.10" y2="143.50" stroke="#000" stroke-width="0.95"/>
<line x1="567.21" y1="153.50" x2="567.21" y2="387.50" stroke="#000" stroke-width="0.78"/>
<line x1="567.21" y1="394.50" x2="567.21" y2="631.50" stroke="#000" stroke-width="0.78"/>
<line x1="567.21" y1="638.50" x2="567.21" y2="700.50" stroke="#000" stroke-width="0.78"/>
<line x1="567.21" y1="133.50" x2="567.21" y2="143.50" stroke="#000" stroke-width="0.95"/>
<line x1="617.32" y1="153.50" x2="617.32" y2="387.50" stroke="#000" stroke-width="0.78"/>
<line x1="617.32" y1="394.50" x2="617.32" y2="631.50" stroke="#000" stroke-width="0.78"/>
<line x1="617.32" y1="638.50" x2="617.32" y2="700.50" stroke="#000" stroke-width="0.78"/>
<line x1="617.32" y1="133.50" x2="617.32" y2="143.50" stroke="#000" stroke-width="0.95"/>
<line x1="667.43" y1="153.50" x2="667.43" y2="387.50" stroke="#000" stroke-width="0.78"/>
<line x1="667.43" y1="394.50" x2="667.43" y2="631.50" stroke="#000" stroke-width="0.78"/>
<line x1="667.43" y1="638.50" x2="667.43" y2="700.50" stroke="#000" stroke-width="0.78"/>
<line x1="667.43" y1="133.50" x2="667.43" y2="143.50" stroke="#000" stroke-width="0.95"/>
<line x1="717.54" y1="153.50" x2="717.54" y2="387.50" stroke="#000" stroke-width="0.78"/>
<line x1="717.54" y1="394.50" x2="717.54" y2="631.50" stroke="#000" stroke-width="0.78"/>
<line x1="717.54" y1="638.50" x2="717.54" y2="700.50" stroke="#000" stroke-width="0.78"/>
<line x1="717.54" y1="133.50" x2="717.54" y2="143.50" stroke="#000" stroke-width="0.95"/>
<line x1="773.92" y1="153.50" x2="773.92" y2="387.50" stroke="#000" stroke-width="0.78"/>
<line x1="773.92" y1="394.50" x2="773.92" y2="631.50" stroke="#000" stroke-width="0.78"/>
<line x1="773.92" y1="638.50" x2="773.92" y2="700.50" stroke="#000" stroke-width="0.78"/>
<line x1="773.92" y1="133.50" x2="773.92" y2="143.50" stroke="#000" stroke-width="0.95"/>
<line x1="830.30" y1="153.50" x2="830.30" y2="387.50" stroke="#000" stroke-width="0.78"/>
<line x1="830.30" y1="394.50" x2="830.30" y2="631.50" stroke="#000" stroke-width="0.78"/>
<line x1="830.30" y1="638.50" x2="830.30" y2="700.50" stroke="#000" stroke-width="0.78"/>
<line x1="830.30" y1="133.50" x2="830.30" y2="143.50" stroke="#000" stroke-width="0.95"/>
<line x1="366.76" y1="128.50" x2="366.76" y2="133.50" stroke="#000" stroke-width="0.9"/>
<line x1="717.54" y1="128.50" x2="717.54" y2="133.50" stroke="#000" stroke-width="0.9"/>
<line x1="773.92" y1="128.50" x2="773.92" y2="133.50" stroke="#000" stroke-width="0.9"/>
<line x1="830.30" y1="128.50" x2="830.30" y2="133.50" stroke="#000" stroke-width="0.9"/>
<line x1="116.20" y1="133.50" x2="886.67" y2="133.50" stroke="#000" stroke-width="0.7"/>
<line x1="116.20" y1="139.50" x2="886.67" y2="139.50" stroke="#000" stroke-width="0.7"/>
<line x1="16.50" y1="128.50" x2="16.50" y2="700.50" stroke="#000" stroke-width="0.85"/>
<line x1="88.50" y1="128.50" x2="88.50" y2="700.50" stroke="#000" stroke-width="0.85"/>
<line x1="116.20" y1="128.50" x2="116.20" y2="700.50" stroke="#000" stroke-width="0.85"/>
<line x1="99.40" y1="153.50" x2="99.40" y2="163.50" stroke="#000" stroke-width="0.7"/>
<line x1="99.40" y1="163.50" x2="99.40" y2="176.50" stroke="#000" stroke-width="0.7"/>
<line x1="99.40" y1="176.50" x2="99.40" y2="186.50" stroke="#000" stroke-width="0.7"/>
<line x1="99.40" y1="186.50" x2="99.40" y2="196.10" stroke="#000" stroke-width="0.7"/>
<line x1="99.40" y1="196.10" x2="99.40" y2="205.50" stroke="#000" stroke-width="0.7"/>
<line x1="99.40" y1="205.50" x2="99.40" y2="216.50" stroke="#000" stroke-width="0.7"/>
<line x1="99.40" y1="216.50" x2="99.40" y2="227.50" stroke="#000" stroke-width="0.7"/>
<line x1="99.40" y1="227.50" x2="99.40" y2="236.50" stroke="#000" stroke-width="0.7"/>
<line x1="99.40" y1="236.50" x2="99.40" y2="243.50" stroke="#000" stroke-width="0.7"/>
<line x1="99.40" y1="243.50" x2="99.40" y2="249.50" stroke="#000" stroke-width="0.7"/>
<line x1="99.40" y1="249.50" x2="99.40" y2="257.50" stroke="#000" stroke-width="0.7"/>
<line x1="99.40" y1="257.50" x2="99.40" y2="265.50" stroke="#000" stroke-width="0.7"/>
<line x1="99.40" y1="265.50" x2="99.40" y2="273.50" stroke="#000" stroke-width="0.7"/>
<line x1="99.40" y1="273.50" x2="99.40" y2="282.50" stroke="#000" stroke-width="0.7"/>
<line x1="99.40" y1="282.50" x2="99.40" y2="291.50" stroke="#000" stroke-width="0.7"/>
<line x1="99.40" y1="291.50" x2="99.40" y2="300.50" stroke="#000" stroke-width="0.7"/>
<line x1="99.40" y1="300.50" x2="99.40" y2="308.50" stroke="#000" stroke-width="0.7"/>
<line x1="99.40" y1="308.50" x2="99.40" y2="316.50" stroke="#000" stroke-width="0.7"/>
<line x1="99.40" y1="316.50" x2="99.40" y2="330.50" stroke="#000" stroke-width="0.7"/>
<line x1="99.40" y1="330.50" x2="99.40" y2="339.50" stroke="#000" stroke-width="0.7"/>
<line x1="99.40" y1="339.50" x2="99.40" y2="350.50" stroke="#000" stroke-width="0.7"/>
<line x1="99.40" y1="350.50" x2="99.40" y2="360.50" stroke="#000" stroke-width="0.7"/>
<line x1="99.40" y1="360.50" x2="99.40" y2="369.50" stroke="#000" stroke-width="0.7"/>
<line x1="99.40" y1="369.50" x2="99.40" y2="379.00" stroke="#000" stroke-width="0.7"/>
<line x1="99.40" y1="379.00" x2="99.40" y2="387.50" stroke="#000" stroke-width="0.7"/>
<line x1="99.40" y1="394.50" x2="99.40" y2="402.50" stroke="#000" stroke-width="0.7"/>
<line x1="99.40" y1="402.50" x2="99.40" y2="412.50" stroke="#000" stroke-width="0.7"/>
<line x1="99.40" y1="412.50" x2="99.40" y2="418.80" stroke="#000" stroke-width="0.7"/>
<line x1="99.40" y1="418.80" x2="99.40" y2="425.80" stroke="#000" stroke-width="0.7"/>
<line x1="99.40" y1="425.80" x2="99.40" y2="438.50" stroke="#000" stroke-width="0.7"/>
<line x1="99.40" y1="438.50" x2="99.40" y2="454.50" stroke="#000" stroke-width="0.7"/>
<line x1="99.40" y1="454.50" x2="99.40" y2="468.10" stroke="#000" stroke-width="0.7"/>
<line x1="99.40" y1="468.10" x2="99.40" y2="476.50" stroke="#000" stroke-width="0.7"/>
<line x1="99.40" y1="476.50" x2="99.40" y2="485.50" stroke="#000" stroke-width="0.7"/>
<line x1="99.40" y1="485.50" x2="99.40" y2="492.50" stroke="#000" stroke-width="0.7"/>
<line x1="99.40" y1="492.50" x2="99.40" y2="500.50" stroke="#000" stroke-width="0.7"/>
<line x1="99.40" y1="500.50" x2="99.40" y2="507.50" stroke="#000" stroke-width="0.7"/>
<line x1="99.40" y1="507.50" x2="99.40" y2="514.90" stroke="#000" stroke-width="0.7"/>
<line x1="99.40" y1="514.90" x2="99.40" y2="522.50" stroke="#000" stroke-width="0.7"/>
<line x1="99.40" y1="522.50" x2="99.40" y2="532.50" stroke="#000" stroke-width="0.7"/>
<line x1="99.40" y1="532.50" x2="99.40" y2="539.50" stroke="#000" stroke-width="0.7"/>
<line x1="99.40" y1="539.50" x2="99.40" y2="546.90" stroke="#000" stroke-width="0.7"/>
<line x1="99.40" y1="546.90" x2="99.40" y2="554.00" stroke="#000" stroke-width="0.7"/>
<line x1="99.40" y1="554.00" x2="99.40" y2="561.50" stroke="#000" stroke-width="0.7"/>
<line x1="99.40" y1="561.50" x2="99.40" y2="568.50" stroke="#000" stroke-width="0.7"/>
<line x1="99.40" y1="568.50" x2="99.40" y2="577.50" stroke="#000" stroke-width="0.7"/>
<line x1="99.40" y1="577.50" x2="99.40" y2="584.50" stroke="#000" stroke-width="0.7"/>
<line x1="99.40" y1="584.50" x2="99.40" y2="591.50" stroke="#000" stroke-width="0.7"/>
<line x1="99.40" y1="591.50" x2="99.40" y2="598.50" stroke="#000" stroke-width="0.7"/>
<line x1="99.40" y1="598.50" x2="99.40" y2="605.50" stroke="#000" stroke-width="0.7"/>
<line x1="99.40" y1="605.50" x2="99.40" y2="612.50" stroke="#000" stroke-width="0.7"/>
<line x1="99.40" y1="612.50" x2="99.40" y2="622.50" stroke="#000" stroke-width="0.7"/>
<line x1="99.40" y1="622.50" x2="99.40" y2="631.50" stroke="#000" stroke-width="0.7"/>
<line x1="99.40" y1="638.50" x2="99.40" y2="647.00" stroke="#000" stroke-width="0.7"/>
<line x1="99.40" y1="647.00" x2="99.40" y2="658.00" stroke="#000" stroke-width="0.7"/>
<line x1="99.40" y1="128.50" x2="99.40" y2="143.50" stroke="#000" stroke-width="0.7"/>
<rect x="17.00" y="143.90" width="869.17" height="9.20" fill="#92d050"/>
<rect x="17.00" y="387.90" width="869.17" height="6.20" fill="#92d050"/>
<rect x="17.00" y="631.90" width="869.17" height="6.20" fill="#92d050"/>
<line x1="11.40" y1="143.50" x2="886.67" y2="143.50" stroke="#111" stroke-width="0.7"/>
<line x1="11.40" y1="153.50" x2="886.67" y2="153.50" stroke="#111" stroke-width="0.7"/>
<line x1="11.40" y1="163.50" x2="886.67" y2="163.50" stroke="#111" stroke-width="0.7"/>
<line x1="11.40" y1="176.50" x2="886.67" y2="176.50" stroke="#111" stroke-width="0.7"/>
<line x1="11.40" y1="186.50" x2="886.67" y2="186.50" stroke="#111" stroke-width="0.7"/>
<line x1="11.40" y1="196.10" x2="886.67" y2="196.10" stroke="#111" stroke-width="0.7"/>
<line x1="11.40" y1="205.50" x2="886.67" y2="205.50" stroke="#111" stroke-width="0.7"/>
<line x1="11.40" y1="216.50" x2="886.67" y2="216.50" stroke="#111" stroke-width="0.7"/>
<line x1="11.40" y1="227.50" x2="886.67" y2="227.50" stroke="#111" stroke-width="0.7"/>
<line x1="11.40" y1="236.50" x2="886.67" y2="236.50" stroke="#111" stroke-width="0.7"/>
<line x1="11.40" y1="243.50" x2="886.67" y2="243.50" stroke="#111" stroke-width="0.7"/>
<line x1="11.40" y1="249.50" x2="886.67" y2="249.50" stroke="#111" stroke-width="0.7"/>
<line x1="11.40" y1="257.50" x2="886.67" y2="257.50" stroke="#111" stroke-width="0.7"/>
<line x1="11.40" y1="265.50" x2="886.67" y2="265.50" stroke="#111" stroke-width="0.7"/>
<line x1="11.40" y1="273.50" x2="886.67" y2="273.50" stroke="#111" stroke-width="0.7"/>
<line x1="11.40" y1="282.50" x2="886.67" y2="282.50" stroke="#111" stroke-width="0.7"/>
<line x1="11.40" y1="291.50" x2="886.67" y2="291.50" stroke="#111" stroke-width="0.7"/>
<line x1="11.40" y1="300.50" x2="886.67" y2="300.50" stroke="#111" stroke-width="0.7"/>
<line x1="11.40" y1="308.50" x2="886.67" y2="308.50" stroke="#111" stroke-width="0.7"/>
<line x1="11.40" y1="316.50" x2="886.67" y2="316.50" stroke="#111" stroke-width="0.7"/>
<line x1="11.40" y1="330.50" x2="886.67" y2="330.50" stroke="#111" stroke-width="0.7"/>
<line x1="11.40" y1="339.50" x2="886.67" y2="339.50" stroke="#111" stroke-width="0.7"/>
<line x1="11.40" y1="350.50" x2="886.67" y2="350.50" stroke="#111" stroke-width="0.7"/>
<line x1="11.40" y1="360.50" x2="886.67" y2="360.50" stroke="#111" stroke-width="0.7"/>
<line x1="11.40" y1="369.50" x2="886.67" y2="369.50" stroke="#111" stroke-width="0.7"/>
<line x1="11.40" y1="379.00" x2="886.67" y2="379.00" stroke="#111" stroke-width="0.7"/>
<line x1="11.40" y1="387.50" x2="886.67" y2="387.50" stroke="#111" stroke-width="0.7"/>
<line x1="11.40" y1="394.50" x2="886.67" y2="394.50" stroke="#111" stroke-width="0.7"/>
<line x1="11.40" y1="402.50" x2="886.67" y2="402.50" stroke="#111" stroke-width="0.7"/>
<line x1="11.40" y1="412.50" x2="886.67" y2="412.50" stroke="#111" stroke-width="0.7"/>
<line x1="11.40" y1="418.80" x2="886.67" y2="418.80" stroke="#111" stroke-width="0.7"/>
<line x1="11.40" y1="425.80" x2="886.67" y2="425.80" stroke="#111" stroke-width="0.7"/>
<line x1="11.40" y1="438.50" x2="886.67" y2="438.50" stroke="#111" stroke-width="0.7"/>
<line x1="11.40" y1="454.50" x2="886.67" y2="454.50" stroke="#111" stroke-width="0.7"/>
<line x1="11.40" y1="468.10" x2="886.67" y2="468.10" stroke="#111" stroke-width="0.7"/>
<line x1="11.40" y1="476.50" x2="886.67" y2="476.50" stroke="#111" stroke-width="0.7"/>
<line x1="11.40" y1="485.50" x2="886.67" y2="485.50" stroke="#111" stroke-width="0.7"/>
<line x1="11.40" y1="492.50" x2="886.67" y2="492.50" stroke="#111" stroke-width="0.7"/>
<line x1="11.40" y1="500.50" x2="886.67" y2="500.50" stroke="#111" stroke-width="0.7"/>
<line x1="11.40" y1="507.50" x2="886.67" y2="507.50" stroke="#111" stroke-width="0.7"/>
<line x1="11.40" y1="514.90" x2="886.67" y2="514.90" stroke="#111" stroke-width="0.7"/>
<line x1="11.40" y1="522.50" x2="886.67" y2="522.50" stroke="#111" stroke-width="0.7"/>
<line x1="11.40" y1="532.50" x2="886.67" y2="532.50" stroke="#111" stroke-width="0.7"/>
<line x1="11.40" y1="539.50" x2="886.67" y2="539.50" stroke="#111" stroke-width="0.7"/>
<line x1="11.40" y1="546.90" x2="886.67" y2="546.90" stroke="#111" stroke-width="0.7"/>
<line x1="11.40" y1="554.00" x2="886.67" y2="554.00" stroke="#111" stroke-width="0.7"/>
<line x1="11.40" y1="561.50" x2="886.67" y2="561.50" stroke="#111" stroke-width="0.7"/>
<line x1="11.40" y1="568.50" x2="886.67" y2="568.50" stroke="#111" stroke-width="0.7"/>
<line x1="11.40" y1="577.50" x2="886.67" y2="577.50" stroke="#111" stroke-width="0.7"/>
<line x1="11.40" y1="584.50" x2="886.67" y2="584.50" stroke="#111" stroke-width="0.7"/>
<line x1="11.40" y1="591.50" x2="886.67" y2="591.50" stroke="#111" stroke-width="0.7"/>
<line x1="11.40" y1="598.50" x2="886.67" y2="598.50" stroke="#111" stroke-width="0.7"/>
<line x1="11.40" y1="605.50" x2="886.67" y2="605.50" stroke="#111" stroke-width="0.7"/>
<line x1="11.40" y1="612.50" x2="886.67" y2="612.50" stroke="#111" stroke-width="0.7"/>
<line x1="11.40" y1="622.50" x2="886.67" y2="622.50" stroke="#111" stroke-width="0.7"/>
<line x1="11.40" y1="631.50" x2="886.67" y2="631.50" stroke="#111" stroke-width="0.7"/>
<line x1="11.40" y1="638.50" x2="886.67" y2="638.50" stroke="#111" stroke-width="0.7"/>
<line x1="11.40" y1="647.00" x2="886.67" y2="647.00" stroke="#111" stroke-width="0.7"/>
<line x1="11.40" y1="658.00" x2="886.67" y2="658.00" stroke="#111" stroke-width="0.7"/>
<line x1="11.40" y1="672.50" x2="886.67" y2="672.50" stroke="#111" stroke-width="0.7"/>
<line x1="11.40" y1="683.50" x2="886.67" y2="683.50" stroke="#111" stroke-width="0.7"/>
<line x1="11.40" y1="692.10" x2="886.67" y2="692.10" stroke="#111" stroke-width="0.7"/>
<line x1="11.40" y1="700.50" x2="886.67" y2="700.50" stroke="#111" stroke-width="0.7"/>
<line x1="11.40" y1="128.50" x2="886.67" y2="128.50" stroke="#000" stroke-width="0.9"/>
<line x1="11.40" y1="128.50" x2="11.40" y2="700.50" stroke="#000" stroke-width="0.9"/>
<line x1="886.67" y1="128.50" x2="886.67" y2="700.50" stroke="#000" stroke-width="0.9"/>
<line x1="11.40" y1="700.50" x2="886.67" y2="700.50" stroke="#000" stroke-width="0.9"/>
<rect x="768.16" y="692.60" width="6.36" height="8.70" fill="#fff"/>
<rect x="260.27" y="153.50" width="81.43" height="10.00" fill="#0b70c2" fill-opacity="0.45"/>
<rect x="416.87" y="153.50" width="125.28" height="10.00" fill="#0b70c2" fill-opacity="0.45"/>
<rect x="160.05" y="163.50" width="169.13" height="13.00" fill="#0b70c2" fill-opacity="0.45"/>
<rect x="398.08" y="163.50" width="112.75" height="13.00" fill="#0b70c2" fill-opacity="0.45"/>
<rect x="216.42" y="176.50" width="119.02" height="10.00" fill="#0b70c2" fill-opacity="0.45"/>
<rect x="134.99" y="186.50" width="119.02" height="9.60" fill="#0b70c2" fill-opacity="0.45"/>
<rect x="385.55" y="196.10" width="81.43" height="9.40" fill="#0b70c2" fill-opacity="0.45"/>
<rect x="560.94" y="196.10" width="31.32" height="9.40" fill="#0b70c2" fill-opacity="0.45"/>
<rect x="479.51" y="205.50" width="112.75" height="11.00" fill="#0b70c2" fill-opacity="0.45"/>
<rect x="185.10" y="227.50" width="357.05" height="9.00" fill="#0b70c2" fill-opacity="0.45"/>
<rect x="329.18" y="236.50" width="275.62" height="7.00" fill="#0b70c2" fill-opacity="0.45"/>
<rect x="210.16" y="243.50" width="388.37" height="6.00" fill="#0b70c2" fill-opacity="0.45"/>
<rect x="222.69" y="249.50" width="382.10" height="8.00" fill="#0b70c2" fill-opacity="0.45"/>
<rect x="554.68" y="257.50" width="37.58" height="8.00" fill="#0b70c2" fill-opacity="0.45"/>
<rect x="260.27" y="273.50" width="344.52" height="9.00" fill="#0b70c2" fill-opacity="0.45"/>
<rect x="354.23" y="282.50" width="244.30" height="9.00" fill="#0b70c2" fill-opacity="0.45"/>
<rect x="329.18" y="291.50" width="263.09" height="9.00" fill="#0b70c2" fill-opacity="0.45"/>
<rect x="279.06" y="300.50" width="306.94" height="8.00" fill="#0b70c2" fill-opacity="0.45"/>
<rect x="235.22" y="308.50" width="187.92" height="8.00" fill="#0b70c2" fill-opacity="0.45"/>
<rect x="335.44" y="316.50" width="263.09" height="14.00" fill="#0b70c2" fill-opacity="0.45"/>
<rect x="429.40" y="330.50" width="175.39" height="9.00" fill="#0b70c2" fill-opacity="0.45"/>
<rect x="429.40" y="339.50" width="187.92" height="11.00" fill="#0b70c2" fill-opacity="0.45"/>
<rect x="341.70" y="350.50" width="238.03" height="10.00" fill="#0b70c2" fill-opacity="0.45"/>
<rect x="379.29" y="360.50" width="225.50" height="9.00" fill="#0b70c2" fill-opacity="0.45"/>
<rect x="554.68" y="369.50" width="37.58" height="9.50" fill="#0b70c2" fill-opacity="0.45"/>
<rect x="567.21" y="379.00" width="50.11" height="8.50" fill="#0b70c2" fill-opacity="0.45"/>
<rect x="272.80" y="394.50" width="131.54" height="8.00" fill="#0b70c2" fill-opacity="0.45"/>
<rect x="304.12" y="402.50" width="162.86" height="10.00" fill="#0b70c2" fill-opacity="0.45"/>
<rect x="410.61" y="412.50" width="106.49" height="6.30" fill="#0b70c2" fill-opacity="0.45"/>
<rect x="423.14" y="418.80" width="144.07" height="7.00" fill="#0b70c2" fill-opacity="0.45"/>
<rect x="322.91" y="425.80" width="250.56" height="12.70" fill="#0b70c2" fill-opacity="0.45"/>
<rect x="297.86" y="438.50" width="281.88" height="16.00" fill="#0b70c2" fill-opacity="0.45"/>
<rect x="310.38" y="454.50" width="275.62" height="13.60" fill="#0b70c2" fill-opacity="0.45"/>
<rect x="398.08" y="476.50" width="200.45" height="9.00" fill="#0b70c2" fill-opacity="0.45"/>
<rect x="391.82" y="485.50" width="200.45" height="7.00" fill="#0b70c2" fill-opacity="0.45"/>
<rect x="391.82" y="492.50" width="194.18" height="8.00" fill="#0b70c2" fill-opacity="0.45"/>
<rect x="391.82" y="500.50" width="219.24" height="7.00" fill="#0b70c2" fill-opacity="0.45"/>
<rect x="460.72" y="507.50" width="156.60" height="7.40" fill="#0b70c2" fill-opacity="0.45"/>
<rect x="466.98" y="522.50" width="100.22" height="10.00" fill="#7030a0" fill-opacity="0.45"/>
<rect x="498.30" y="532.50" width="62.64" height="7.00" fill="#7030a0" fill-opacity="0.45"/>
<rect x="542.15" y="539.50" width="144.07" height="7.40" fill="#7030a0" fill-opacity="0.45"/>
<rect x="542.15" y="546.90" width="144.07" height="7.10" fill="#7030a0" fill-opacity="0.45"/>
<rect x="636.11" y="554.00" width="31.32" height="7.50" fill="#7030a0" fill-opacity="0.45"/>
<rect x="554.68" y="561.50" width="112.75" height="7.00" fill="#7030a0" fill-opacity="0.45"/>
<rect x="560.94" y="577.50" width="156.60" height="7.00" fill="#7030a0" fill-opacity="0.45"/>
<rect x="560.94" y="584.50" width="156.60" height="7.00" fill="#7030a0" fill-opacity="0.45"/>
<rect x="560.94" y="591.50" width="156.60" height="7.00" fill="#7030a0" fill-opacity="0.45"/>
<rect x="560.94" y="598.50" width="106.49" height="7.00" fill="#7030a0" fill-opacity="0.45"/>
<rect x="560.94" y="605.50" width="106.49" height="7.00" fill="#7030a0" fill-opacity="0.45"/>
<rect x="567.21" y="612.50" width="150.34" height="10.00" fill="#7030a0" fill-opacity="0.45"/>
<rect x="667.43" y="622.50" width="50.11" height="9.00" fill="#7030a0" fill-opacity="0.45"/>
<rect x="479.51" y="638.50" width="150.34" height="8.50" fill="#0b70c2" fill-opacity="0.45"/>
<rect x="479.51" y="647.00" width="169.13" height="11.00" fill="#0b70c2" fill-opacity="0.45"/>
<rect x="466.98" y="658.00" width="162.86" height="14.50" fill="#0b70c2" fill-opacity="0.45"/>
<rect x="517.10" y="672.50" width="119.02" height="11.00" fill="#0b70c2" fill-opacity="0.45"/>
<rect x="592.26" y="683.50" width="119.02" height="8.60" fill="#7030a0" fill-opacity="0.45"/>
<rect x="698.75" y="692.10" width="62.64" height="8.40" fill="#7030a0" fill-opacity="0.45"/>
<line x1="705.70" y1="79.30" x2="807.60" y2="79.30" stroke="#000" stroke-width="0.8"/>
<line x1="79.50" y1="57.20" x2="128.50" y2="57.20" stroke="#444" stroke-width="0.6"/>
<g fill="none" stroke="#5f9bd6">
<circle cx="74.4" cy="59.6" r="29.2" stroke-width="1.0" opacity="0.8"/>
<circle cx="74.4" cy="59.6" r="27.2" stroke-width="2.2" stroke-dasharray="0.8 0.45" opacity="0.68"/>
<circle cx="74.4" cy="59.6" r="24.2" stroke-width="2.4" stroke-dasharray="0.9 0.5" opacity="0.56"/>
<circle cx="74.4" cy="59.6" r="21.9" stroke-width="0.8" opacity="0.75"/>
<circle cx="74.4" cy="59.6" r="19.4" stroke-width="1.3" stroke-dasharray="0.7 0.7" opacity="0.25"/>
<path d="M83.5 60.6 C80 58.6 75.6 60.2 75.2 63.6 C74.9 67 78.6 69 82 67.6 C84.6 66.5 85.6 64 88.7 64.2 L100.6 62.3" stroke-width="0.9" opacity="0.8" stroke="#4f86c0"/>
<path d="M77.5 62 C79.5 61 82 62 82.6 64 M75.6 42.6 L75.4 47 M74 45 L77.4 44.6 M87.2 46.6 C88.2 47 88.6 48.4 87.8 49.4 M76 71 L79 69.6 M74.4 49 L74.4 57" stroke-width="0.7" opacity="0.6"/>
<path d="M100.2 52.5 C103.6 55 104.4 62 104.5 75.6 C113 71.6 128 68.6 141.6 68.9 C129 70.6 116 72.4 105.2 76" stroke-width="0.6" opacity="0.75" stroke="#5b8fc9"/>
<path d="M98.6 55 C101.5 60 102.6 66 102.4 72 M101.4 57.6 C99.4 63 100 69 103.6 73" stroke-width="0.7" opacity="0.55"/>
</g>
<text x="0" y="0" font-size="4.6" font-style="italic" fill="#7fa3cf" opacity="0.9" text-anchor="middle" transform="translate(66.6,64.2) rotate(-37)">Мосотдел</text>
<g filter="url(#gs)" text-rendering="geometricPrecision">
<text x="52.50" y="137.00" font-size="3.05" text-anchor="middle" font-weight="bold" fill="#000">Наименование работ</text>
<text x="93.95" y="134.90" font-size="3.0" text-anchor="middle" font-weight="bold" fill="#000">ед.</text>
<text x="93.95" y="138.60" font-size="3.0" text-anchor="middle" font-weight="bold" fill="#000">изм</text>
<text x="107.80" y="137.00" font-size="3.1" text-anchor="middle" font-weight="bold" fill="#000">Объем</text>
<text x="13.95" y="135.40" font-size="2.2" text-anchor="middle" fill="#000">№</text>
<text x="13.95" y="138.20" font-size="2.0" text-anchor="middle" fill="#000">п/п</text>
<text x="542.15" y="132.20" font-size="2.6" text-anchor="middle" fill="#777">2018</text>
<text x="141.26" y="138.70" font-size="3.4" text-anchor="middle" font-weight="bold" fill="#000">1</text>
<text x="141.26" y="143.00" font-size="3.1" text-anchor="middle" fill="#000">август</text>
<text x="191.37" y="138.70" font-size="3.4" text-anchor="middle" font-weight="bold" fill="#000">2</text>
<text x="191.37" y="143.00" font-size="3.1" text-anchor="middle" fill="#000">сентябрь</text>
<text x="241.48" y="138.70" font-size="3.4" text-anchor="middle" font-weight="bold" fill="#000">3</text>
<text x="241.48" y="143.00" font-size="3.1" text-anchor="middle" fill="#000">октябрь</text>
<text x="291.59" y="138.70" font-size="3.4" text-anchor="middle" font-weight="bold" fill="#000">4</text>
<text x="291.59" y="143.00" font-size="3.1" text-anchor="middle" fill="#000">ноябрь</text>
<text x="341.70" y="138.70" font-size="3.4" text-anchor="middle" font-weight="bold" fill="#000">5</text>
<text x="341.70" y="143.00" font-size="3.1" text-anchor="middle" fill="#000">декабрь</text>
<text x="391.82" y="138.70" font-size="3.4" text-anchor="middle" font-weight="bold" fill="#000">6</text>
<text x="391.82" y="143.00" font-size="3.1" text-anchor="middle" fill="#000">январь</text>
<text x="441.93" y="138.70" font-size="3.4" text-anchor="middle" font-weight="bold" fill="#000">7</text>
<text x="441.93" y="143.00" font-size="3.1" text-anchor="middle" fill="#000">февраль</text>
<text x="492.04" y="138.70" font-size="3.4" text-anchor="middle" font-weight="bold" fill="#000">8</text>
<text x="492.04" y="143.00" font-size="3.1" text-anchor="middle" fill="#000">март</text>
<text x="542.15" y="138.70" font-size="3.4" text-anchor="middle" font-weight="bold" fill="#000">9</text>
<text x="542.15" y="143.00" font-size="3.1" text-anchor="middle" fill="#000">апрель</text>
<text x="592.26" y="138.70" font-size="3.4" text-anchor="middle" font-weight="bold" fill="#000">10</text>
<text x="592.26" y="143.00" font-size="3.1" text-anchor="middle" fill="#000">май</text>
<text x="642.38" y="138.70" font-size="3.4" text-anchor="middle" font-weight="bold" fill="#000">11</text>
<text x="642.38" y="143.00" font-size="3.1" text-anchor="middle" fill="#000">июнь</text>
<text x="692.49" y="138.70" font-size="3.4" text-anchor="middle" font-weight="bold" fill="#000">12</text>
<text x="692.49" y="143.00" font-size="3.1" text-anchor="middle" fill="#000">июль</text>
<text x="745.73" y="138.70" font-size="3.4" text-anchor="middle" font-weight="bold" fill="#000">13</text>
<text x="745.73" y="143.00" font-size="3.1" text-anchor="middle" fill="#000">август</text>
<text x="802.11" y="138.70" font-size="3.4" text-anchor="middle" font-weight="bold" fill="#000">14</text>
<text x="802.11" y="143.00" font-size="3.1" text-anchor="middle" fill="#000">сентябрь</text>
<text x="858.48" y="138.70" font-size="3.4" text-anchor="middle" font-weight="bold" fill="#000">14</text>
<text x="858.48" y="143.00" font-size="3.1" text-anchor="middle" fill="#000">октябрь</text>
<text x="13.95" y="149.50" font-size="2.9" text-anchor="middle" fill="#333">1</text>
<text x="451.59" y="149.75" font-size="3.55" text-anchor="middle" font-weight="bold" fill="#000">Общестроительные работы надземной части</text>
<text x="13.95" y="159.50" font-size="2.9" text-anchor="middle" fill="#333">2</text>
<text x="52.50" y="159.03" font-size="3.0" text-anchor="middle" fill="#222">Работы по устройству ж/б монолитных</text>
<text x="52.50" y="162.78" font-size="3.0" text-anchor="middle" fill="#222">конструкций</text>
<text x="93.95" y="159.60" font-size="3.1" text-anchor="middle" font-weight="bold" fill="#000">м3</text>
<text x="107.80" y="159.60" font-size="3.2" text-anchor="middle" font-weight="bold" fill="#000">48</text>
<text x="13.95" y="171.00" font-size="2.9" text-anchor="middle" fill="#333">3</text>
<text x="52.50" y="169.12" font-size="3.0" text-anchor="middle" fill="#222">Работы по устройству кладок внутренних стен (в</text>
<text x="52.50" y="172.88" font-size="3.0" text-anchor="middle" fill="#222">т.ч.плит/б преград коробов вшахты/депчасти )</text>
<text x="93.95" y="171.10" font-size="3.1" text-anchor="middle" font-weight="bold" fill="#000">м3</text>
<text x="107.80" y="171.10" font-size="3.2" text-anchor="middle" font-weight="bold" fill="#000">4004</text>
<text x="13.95" y="182.50" font-size="2.9" text-anchor="middle" fill="#333">4</text>
<text x="52.50" y="182.25" font-size="3.0" text-anchor="middle" fill="#222">Работы по устройству кладок наружних стен</text>
<text x="93.95" y="182.60" font-size="3.1" text-anchor="middle" font-weight="bold" fill="#000">м3</text>
<text x="107.80" y="182.60" font-size="3.2" text-anchor="middle" font-weight="bold" fill="#000">120</text>
<text x="13.95" y="192.30" font-size="2.9" text-anchor="middle" fill="#333">5</text>
<text x="52.50" y="192.05" font-size="3.0" text-anchor="middle" fill="#222">Работы по устройству кровли</text>
<text x="93.95" y="192.40" font-size="3.1" text-anchor="middle" font-weight="bold" fill="#000">м2</text>
<text x="107.80" y="192.40" font-size="3.2" text-anchor="middle" font-weight="bold" fill="#000">550</text>
<text x="13.95" y="201.80" font-size="2.9" text-anchor="middle" fill="#333">6</text>
<text x="52.50" y="201.55" font-size="3.0" text-anchor="middle" fill="#222">Заполнение оконных проемов</text>
<text x="93.95" y="201.90" font-size="3.1" text-anchor="middle" font-weight="bold" fill="#000">м2</text>
<text x="107.80" y="201.90" font-size="3.2" text-anchor="middle" font-weight="bold" fill="#000">42</text>
<text x="13.95" y="212.00" font-size="2.9" text-anchor="middle" fill="#333">7</text>
<text x="52.50" y="210.12" font-size="3.0" text-anchor="middle" fill="#222">Фасадные работы (отделочные работы</text>
<text x="52.50" y="213.88" font-size="3.0" text-anchor="middle" fill="#222">декоративной штукатуркой)</text>
<text x="93.95" y="212.10" font-size="3.1" text-anchor="middle" font-weight="bold" fill="#000">м2</text>
<text x="107.80" y="212.10" font-size="3.2" text-anchor="middle" font-weight="bold" fill="#000">449</text>
<text x="13.95" y="223.00" font-size="2.9" text-anchor="middle" fill="#333">8</text>
<text x="52.50" y="222.75" font-size="3.0" text-anchor="middle" fill="#222">Отделочные работы</text>
<text x="13.95" y="233.00" font-size="2.9" text-anchor="middle" fill="#333">9</text>
<text x="52.50" y="231.12" font-size="3.0" text-anchor="middle" fill="#222">Отделочные работы по квартирам(штукатурка</text>
<text x="52.50" y="234.88" font-size="3.0" text-anchor="middle" fill="#222">стен)</text>
<text x="93.95" y="233.10" font-size="3.1" text-anchor="middle" font-weight="bold" fill="#000">м2</text>
<text x="107.80" y="233.10" font-size="3.2" text-anchor="middle" font-weight="bold" fill="#000">5400</text>
<text x="13.95" y="241.00" font-size="2.9" text-anchor="middle" fill="#333">10</text>
<text x="52.50" y="240.75" font-size="3.0" text-anchor="middle" fill="#222">Отделочные работы по МОП полы</text>
<text x="93.95" y="241.10" font-size="3.1" text-anchor="middle" font-weight="bold" fill="#000">м2</text>
<text x="107.80" y="241.10" font-size="3.2" text-anchor="middle" font-weight="bold" fill="#000">5859</text>
<text x="13.95" y="247.50" font-size="2.9" text-anchor="middle" fill="#333">11</text>
<text x="52.50" y="247.25" font-size="3.0" text-anchor="middle" fill="#222">Отделочные работы по МОП стены</text>
<text x="93.95" y="247.60" font-size="3.1" text-anchor="middle" font-weight="bold" fill="#000">м2</text>
<text x="107.80" y="247.60" font-size="3.2" text-anchor="middle" font-weight="bold" fill="#000">8005</text>
<text x="13.95" y="254.50" font-size="2.9" text-anchor="middle" fill="#333">12</text>
<text x="52.50" y="254.25" font-size="3.0" text-anchor="middle" fill="#222">Отделочные работы по МОП потолки</text>
<text x="93.95" y="254.60" font-size="3.1" text-anchor="middle" font-weight="bold" fill="#000">м2</text>
<text x="107.80" y="254.60" font-size="3.2" text-anchor="middle" font-weight="bold" fill="#000">3218</text>
<text x="13.95" y="262.50" font-size="2.9" text-anchor="middle" fill="#333">13</text>
<text x="52.50" y="262.25" font-size="3.0" text-anchor="middle" fill="#222">Установка входных дверей</text>
<text x="93.95" y="262.60" font-size="3.1" text-anchor="middle" font-weight="bold" fill="#000">м2</text>
<text x="107.80" y="262.60" font-size="3.2" text-anchor="middle" font-weight="bold" fill="#000">240</text>
<text x="13.95" y="270.50" font-size="2.9" text-anchor="middle" fill="#333">14</text>
<text x="52.50" y="270.25" font-size="3.0" text-anchor="middle" fill="#222">Внутренние инженерные</text>
<text x="13.95" y="279.00" font-size="2.9" text-anchor="middle" fill="#333">15</text>
<text x="52.50" y="278.75" font-size="3.0" text-anchor="middle" fill="#222">Прокладка сетей электроснабжения</text>
<text x="93.95" y="279.10" font-size="3.1" text-anchor="middle" font-weight="bold" fill="#000">п.м.</text>
<text x="107.80" y="279.10" font-size="3.2" text-anchor="middle" font-weight="bold" fill="#000">3100</text>
<text x="13.95" y="288.00" font-size="2.9" text-anchor="middle" fill="#333">16</text>
<text x="52.50" y="287.75" font-size="3.0" text-anchor="middle" fill="#222">Монтаж системы электроосвещения</text>
<text x="93.95" y="288.10" font-size="3.1" text-anchor="middle" font-weight="bold" fill="#000">п.м.</text>
<text x="107.80" y="288.10" font-size="3.2" text-anchor="middle" font-weight="bold" fill="#000">3500</text>
<text x="13.95" y="297.00" font-size="2.9" text-anchor="middle" fill="#333">17</text>
<text x="52.50" y="296.75" font-size="3.0" text-anchor="middle" fill="#222">Прокладка сетей ГВС и ХВС</text>
<text x="93.95" y="297.10" font-size="3.1" text-anchor="middle" font-weight="bold" fill="#000">п.м.</text>
<text x="107.80" y="297.10" font-size="3.2" text-anchor="middle" font-weight="bold" fill="#000">3388</text>
<text x="13.95" y="305.50" font-size="2.9" text-anchor="middle" fill="#333">18</text>
<text x="52.50" y="303.62" font-size="3.0" text-anchor="middle" fill="#222">Прокладка сетей водоотведения (водосток и</text>
<text x="52.50" y="307.38" font-size="3.0" text-anchor="middle" fill="#222">канализация)</text>
<text x="93.95" y="305.60" font-size="3.1" text-anchor="middle" font-weight="bold" fill="#000">п.м.</text>
<text x="107.80" y="305.60" font-size="3.2" text-anchor="middle" font-weight="bold" fill="#000">1718</text>
<text x="13.95" y="313.50" font-size="2.9" text-anchor="middle" fill="#333">19</text>
<text x="52.50" y="313.25" font-size="3.0" text-anchor="middle" fill="#222">Прокладка и монтаж системы отопления</text>
<text x="93.95" y="313.60" font-size="3.1" text-anchor="middle" font-weight="bold" fill="#000">п.м.</text>
<text x="107.80" y="313.60" font-size="3.2" text-anchor="middle" font-weight="bold" fill="#000">4498</text>
<text x="13.95" y="324.50" font-size="2.9" text-anchor="middle" fill="#333">20</text>
<text x="52.50" y="320.75" font-size="3.0" text-anchor="middle" fill="#222">Монтаж системы противодымной</text>
<text x="52.50" y="324.50" font-size="3.0" text-anchor="middle" fill="#222">защиты(пожарной сигнализации, системы</text>
<text x="52.50" y="328.25" font-size="3.0" text-anchor="middle" fill="#222">оповещения людей о пожаре</text>
<text x="93.95" y="324.60" font-size="3.1" text-anchor="middle" font-weight="bold" fill="#000">п.м.</text>
<text x="107.80" y="324.60" font-size="3.2" text-anchor="middle" font-weight="bold" fill="#000">3720</text>
<text x="13.95" y="336.00" font-size="2.9" text-anchor="middle" fill="#333">21</text>
<text x="52.50" y="334.12" font-size="3.0" text-anchor="middle" fill="#222">Прокладка сетей радио , телефонии и</text>
<text x="52.50" y="337.88" font-size="3.0" text-anchor="middle" fill="#222">телевидения</text>
<text x="93.95" y="336.10" font-size="3.1" text-anchor="middle" font-weight="bold" fill="#000">п.м.</text>
<text x="107.80" y="336.10" font-size="3.2" text-anchor="middle" font-weight="bold" fill="#000">890</text>
<text x="13.95" y="346.00" font-size="2.9" text-anchor="middle" fill="#333">22</text>
<text x="52.50" y="344.12" font-size="3.0" text-anchor="middle" fill="#222">Монтаж системы контроля доступа и</text>
<text x="52.50" y="347.88" font-size="3.0" text-anchor="middle" fill="#222">видеонаблюдения</text>
<text x="93.95" y="346.10" font-size="3.1" text-anchor="middle" font-weight="bold" fill="#000">п.м.</text>
<text x="107.80" y="346.10" font-size="3.2" text-anchor="middle" font-weight="bold" fill="#000">710</text>
<text x="13.95" y="356.50" font-size="2.9" text-anchor="middle" fill="#333">23</text>
<text x="52.50" y="354.62" font-size="3.0" text-anchor="middle" fill="#222">Монтаж системы естественной и принудительной</text>
<text x="52.50" y="358.38" font-size="3.0" text-anchor="middle" fill="#222">вентиляции</text>
<text x="93.95" y="356.60" font-size="3.1" text-anchor="middle" font-weight="bold" fill="#000">п.м.</text>
<text x="107.80" y="356.60" font-size="3.2" text-anchor="middle" font-weight="bold" fill="#000">1188</text>
<text x="13.95" y="366.00" font-size="2.9" text-anchor="middle" fill="#333">24</text>
<text x="52.50" y="364.12" font-size="3.0" text-anchor="middle" fill="#222">Монтаж системы дымоудаления и подпора</text>
<text x="52.50" y="367.88" font-size="3.0" text-anchor="middle" fill="#222">воздуха</text>
<text x="93.95" y="366.10" font-size="3.1" text-anchor="middle" font-weight="bold" fill="#000">п.м.</text>
<text x="107.80" y="366.10" font-size="3.2" text-anchor="middle" font-weight="bold" fill="#000">1188</text>
<text x="13.95" y="375.25" font-size="2.9" text-anchor="middle" fill="#333">25</text>
<text x="52.50" y="375.00" font-size="3.0" text-anchor="middle" fill="#222">Монтаж мусоропровода</text>
<text x="93.95" y="375.35" font-size="3.1" text-anchor="middle" font-weight="bold" fill="#000">п.м.</text>
<text x="107.80" y="375.35" font-size="3.2" text-anchor="middle" font-weight="bold" fill="#000">28</text>
<text x="13.95" y="384.25" font-size="2.9" text-anchor="middle" fill="#333">26</text>
<text x="52.50" y="384.00" font-size="3.0" text-anchor="middle" fill="#222">Монтаж лифтового оборудования</text>
<text x="93.95" y="384.35" font-size="3.1" text-anchor="middle" font-weight="bold" fill="#000">шт</text>
<text x="107.80" y="384.35" font-size="3.2" text-anchor="middle" font-weight="bold" fill="#000">8</text>
<text x="13.95" y="392.00" font-size="2.9" text-anchor="middle" fill="#333">27</text>
<text x="451.59" y="392.25" font-size="3.55" text-anchor="middle" font-weight="bold" fill="#000">Общестроительные работы подземной части</text>
<text x="13.95" y="399.50" font-size="2.9" text-anchor="middle" fill="#333">28</text>
<text x="52.50" y="397.62" font-size="3.0" text-anchor="middle" fill="#222">Работы по устройству ж/б монолитных</text>
<text x="52.50" y="401.38" font-size="3.0" text-anchor="middle" fill="#222">конструкций</text>
<text x="93.95" y="399.60" font-size="3.1" text-anchor="middle" font-weight="bold" fill="#000">м3</text>
<text x="107.80" y="399.60" font-size="3.2" text-anchor="middle" font-weight="bold" fill="#000">143</text>
<text x="13.95" y="408.50" font-size="2.9" text-anchor="middle" fill="#333">29</text>
<text x="52.50" y="407.32" font-size="3.0" text-anchor="middle" fill="#222">Работы по устройству каменной кладки стен и</text>
<text x="52.50" y="411.07" font-size="3.0" text-anchor="middle" fill="#222">перегородок</text>
<text x="93.95" y="408.60" font-size="3.1" text-anchor="middle" font-weight="bold" fill="#000">м2</text>
<text x="107.80" y="408.60" font-size="3.2" text-anchor="middle" font-weight="bold" fill="#000">989</text>
<text x="13.95" y="416.65" font-size="2.9" text-anchor="middle" fill="#333">30</text>
<text x="52.50" y="417.80" font-size="3.0" text-anchor="middle" fill="#222">Работы по устройству цоколя</text>
<text x="93.95" y="416.75" font-size="3.1" text-anchor="middle" font-weight="bold" fill="#000">м2</text>
<text x="107.80" y="416.75" font-size="3.2" text-anchor="middle" font-weight="bold" fill="#000">2980</text>
<text x="13.95" y="423.30" font-size="2.9" text-anchor="middle" fill="#333">31</text>
<text x="52.50" y="424.80" font-size="3.0" text-anchor="middle" fill="#222">Заполнение дверных проемов</text>
<text x="93.95" y="423.40" font-size="3.1" text-anchor="middle" font-weight="bold" fill="#000">м2</text>
<text x="107.80" y="423.40" font-size="3.2" text-anchor="middle" font-weight="bold" fill="#000">997</text>
<text x="13.95" y="433.15" font-size="2.9" text-anchor="middle" fill="#333">32</text>
<text x="52.50" y="431.27" font-size="3.0" text-anchor="middle" fill="#222">Отделочные работы -полы ( спец помещения -без</text>
<text x="52.50" y="435.02" font-size="3.0" text-anchor="middle" fill="#222">устройства полов парковочных мест)</text>
<text x="93.95" y="433.25" font-size="3.1" text-anchor="middle" font-weight="bold" fill="#000">м2</text>
<text x="107.80" y="433.25" font-size="3.2" text-anchor="middle" font-weight="bold" fill="#000">1121</text>
<text x="13.95" y="447.50" font-size="2.9" text-anchor="middle" fill="#333">33</text>
<text x="52.50" y="445.62" font-size="3.0" text-anchor="middle" fill="#222">Отделочные работы -стены( спецпомещения</text>
<text x="52.50" y="449.38" font-size="3.0" text-anchor="middle" fill="#222">-без устройства стен парковочных мест)</text>
<text x="93.95" y="447.60" font-size="3.1" text-anchor="middle" font-weight="bold" fill="#000">м2</text>
<text x="107.80" y="447.60" font-size="3.2" text-anchor="middle" font-weight="bold" fill="#000">2798</text>
<text x="13.95" y="462.30" font-size="2.9" text-anchor="middle" fill="#333">34</text>
<text x="52.50" y="460.43" font-size="3.0" text-anchor="middle" fill="#222">Отделочные работы -потолки ( спец помещения</text>
<text x="52.50" y="464.18" font-size="3.0" text-anchor="middle" fill="#222">-без устройства потолков парковочных мест)</text>
<text x="93.95" y="462.40" font-size="3.1" text-anchor="middle" font-weight="bold" fill="#000">м2</text>
<text x="107.80" y="462.40" font-size="3.2" text-anchor="middle" font-weight="bold" fill="#000">1121</text>
<text x="13.95" y="473.30" font-size="2.9" text-anchor="middle" fill="#333">35</text>
<text x="52.50" y="471.43" font-size="3.0" text-anchor="middle" fill="#222">Инженерные сети внутренние (без учёта</text>
<text x="52.50" y="475.18" font-size="3.0" text-anchor="middle" fill="#222">парковочных мест )</text>
<text x="13.95" y="482.00" font-size="2.9" text-anchor="middle" fill="#333">36</text>
<text x="52.50" y="484.20" font-size="3.0" text-anchor="middle" fill="#222">Система электроснабжения</text>
<text x="93.95" y="482.10" font-size="3.1" text-anchor="middle" font-weight="bold" fill="#000">п.м.</text>
<text x="107.80" y="482.10" font-size="3.2" text-anchor="middle" font-weight="bold" fill="#000">449</text>
<text x="13.95" y="490.00" font-size="2.9" text-anchor="middle" fill="#333">37</text>
<text x="52.50" y="491.20" font-size="3.0" text-anchor="middle" fill="#222">Система водоснабжения</text>
<text x="93.95" y="490.10" font-size="3.1" text-anchor="middle" font-weight="bold" fill="#000">п.м.</text>
<text x="107.80" y="490.10" font-size="3.2" text-anchor="middle" font-weight="bold" fill="#000">710</text>
<text x="13.95" y="497.50" font-size="2.9" text-anchor="middle" fill="#333">38</text>
<text x="52.50" y="499.20" font-size="3.0" text-anchor="middle" fill="#222">Система водоотведения</text>
<text x="93.95" y="497.60" font-size="3.1" text-anchor="middle" font-weight="bold" fill="#000">п.м.</text>
<text x="107.80" y="497.60" font-size="3.2" text-anchor="middle" font-weight="bold" fill="#000">410</text>
<text x="13.95" y="505.00" font-size="2.9" text-anchor="middle" fill="#333">39</text>
<text x="52.50" y="506.20" font-size="3.0" text-anchor="middle" fill="#222">Система вентиляции, дымоудаления</text>
<text x="93.95" y="505.10" font-size="3.1" text-anchor="middle" font-weight="bold" fill="#000">п.м.</text>
<text x="107.80" y="505.10" font-size="3.2" text-anchor="middle" font-weight="bold" fill="#000">954</text>
<text x="13.95" y="512.20" font-size="2.9" text-anchor="middle" fill="#333">40</text>
<text x="52.50" y="513.60" font-size="3.0" text-anchor="middle" fill="#222">Слаботочные сети</text>
<text x="93.95" y="512.30" font-size="3.1" text-anchor="middle" font-weight="bold" fill="#000">п.м.</text>
<text x="107.80" y="512.30" font-size="3.2" text-anchor="middle" font-weight="bold" fill="#000">1244</text>
<text x="52.50" y="517.83" font-size="3.0" text-anchor="middle" font-weight="bold" fill="#000">Общестроительные работы с  учетом</text>
<text x="52.50" y="521.58" font-size="3.0" text-anchor="middle" font-weight="bold" fill="#000">парковочных мест</text>
<text x="52.50" y="526.62" font-size="3.0" text-anchor="middle" fill="#222">Подготовка поверхностей монолитных</text>
<text x="52.50" y="530.38" font-size="3.0" text-anchor="middle" fill="#222">конструкций (шлифовка, срубка наплывов)</text>
<text x="93.95" y="528.60" font-size="3.1" text-anchor="middle" font-weight="bold" fill="#000">м2</text>
<text x="107.80" y="528.60" font-size="3.2" text-anchor="middle" font-weight="bold" fill="#000">23600</text>
<text x="52.50" y="535.12" font-size="3.0" text-anchor="middle" fill="#222">Инъектирование, устранение протечек,</text>
<text x="52.50" y="538.88" font-size="3.0" text-anchor="middle" fill="#222">заполнение деформационных швов</text>
<text x="93.95" y="537.10" font-size="3.1" text-anchor="middle" font-weight="bold" fill="#000">м2</text>
<text x="107.80" y="537.10" font-size="3.2" text-anchor="middle" font-weight="bold" fill="#000">184</text>
<text x="52.50" y="545.60" font-size="3.0" text-anchor="middle" fill="#222">Отделочные работы стен  парковочных мест</text>
<text x="93.95" y="544.30" font-size="3.1" text-anchor="middle" font-weight="bold" fill="#000">м2</text>
<text x="107.80" y="544.30" font-size="3.2" text-anchor="middle" font-weight="bold" fill="#000">9800</text>
<text x="52.50" y="552.70" font-size="3.0" text-anchor="middle" fill="#222">Отделочные работы потолков  парковочных мест</text>
<text x="93.95" y="551.55" font-size="3.1" text-anchor="middle" font-weight="bold" fill="#000">м2</text>
<text x="107.80" y="551.55" font-size="3.2" text-anchor="middle" font-weight="bold" fill="#000">13800</text>
<text x="52.50" y="556.88" font-size="3.0" text-anchor="middle" fill="#222">Установка дверей металлических</text>
<text x="52.50" y="560.62" font-size="3.0" text-anchor="middle" fill="#222">противопожарных, ворот</text>
<text x="93.95" y="558.85" font-size="3.1" text-anchor="middle" font-weight="bold" fill="#000">м2</text>
<text x="107.80" y="558.85" font-size="3.2" text-anchor="middle" font-weight="bold" fill="#000">290</text>
<text x="52.50" y="567.20" font-size="3.0" text-anchor="middle" fill="#222">Устройство бетонных полов с акрилпокрытием</text>
<text x="93.95" y="566.10" font-size="3.1" text-anchor="middle" font-weight="bold" fill="#000">м2</text>
<text x="107.80" y="566.10" font-size="3.2" text-anchor="middle" font-weight="bold" fill="#000">13800</text>
<text x="52.50" y="572.12" font-size="3.0" text-anchor="middle" font-weight="bold" fill="#000">Инженерные сети внутренние с учетом</text>
<text x="52.50" y="575.88" font-size="3.0" text-anchor="middle" font-weight="bold" fill="#000">парковочных мест</text>
<text x="52.50" y="584.00" font-size="3.0" text-anchor="middle" fill="#222">Сети  электроснабжения</text>
<text x="93.95" y="582.10" font-size="3.1" text-anchor="middle" font-weight="bold" fill="#000">п.м.</text>
<text x="107.80" y="582.10" font-size="3.2" text-anchor="middle" font-weight="bold" fill="#000">9800</text>
<text x="52.50" y="590.90" font-size="3.0" text-anchor="middle" fill="#222">Сети водоснабжения</text>
<text x="93.95" y="589.10" font-size="3.1" text-anchor="middle" font-weight="bold" fill="#000">п.м.</text>
<text x="107.80" y="589.10" font-size="3.2" text-anchor="middle" font-weight="bold" fill="#000">2550</text>
<text x="52.50" y="598.00" font-size="3.0" text-anchor="middle" fill="#222">Система спринклерного пожаротушения</text>
<text x="93.95" y="596.10" font-size="3.1" text-anchor="middle" font-weight="bold" fill="#000">п.м.</text>
<text x="107.80" y="596.10" font-size="3.2" text-anchor="middle" font-weight="bold" fill="#000">1380</text>
<text x="52.50" y="604.90" font-size="3.0" text-anchor="middle" fill="#222">Система водоотведения</text>
<text x="93.95" y="603.10" font-size="3.1" text-anchor="middle" font-weight="bold" fill="#000">п.м.</text>
<text x="107.80" y="603.10" font-size="3.2" text-anchor="middle" font-weight="bold" fill="#000">3100</text>
<text x="52.50" y="612.00" font-size="3.0" text-anchor="middle" fill="#222">Система вентиляции и дымоудаления</text>
<text x="93.95" y="610.10" font-size="3.1" text-anchor="middle" font-weight="bold" fill="#000">п.м.</text>
<text x="107.80" y="610.10" font-size="3.2" text-anchor="middle" font-weight="bold" fill="#000">4200</text>
<text x="52.50" y="617.42" font-size="3.0" text-anchor="middle" fill="#222">Слаботочные сети ( оповещение о пожаре,</text>
<text x="52.50" y="621.17" font-size="3.0" text-anchor="middle" fill="#222">загазованности, связь)</text>
<text x="93.95" y="618.60" font-size="3.1" text-anchor="middle" font-weight="bold" fill="#000">п.м.</text>
<text x="107.80" y="618.60" font-size="3.2" text-anchor="middle" font-weight="bold" fill="#000">5750</text>
<text x="52.50" y="626.42" font-size="3.0" text-anchor="middle" fill="#222">Поставка и монтаж механизированных</text>
<text x="52.50" y="630.17" font-size="3.0" text-anchor="middle" fill="#222">парковочных систем</text>
<text x="93.95" y="628.10" font-size="3.1" text-anchor="middle" font-weight="bold" fill="#000">шт</text>
<text x="107.80" y="628.10" font-size="3.2" text-anchor="middle" font-weight="bold" fill="#000">218</text>
<text x="13.95" y="636.00" font-size="2.9" text-anchor="middle" fill="#333">41</text>
<text x="451.59" y="636.25" font-size="3.55" text-anchor="middle" font-weight="bold" fill="#000">Благоустройство территории</text>
<text x="13.95" y="643.75" font-size="2.9" text-anchor="middle" fill="#333">42</text>
<text x="17.30" y="641.88" font-size="3.0" text-anchor="start" fill="#222">Газоны, тротуары, отмостка, автостоянка и</text>
<text x="17.30" y="645.62" font-size="3.0" text-anchor="start" fill="#222">(бетон)</text>
<text x="93.95" y="643.85" font-size="3.1" text-anchor="middle" font-weight="bold" fill="#000">м2</text>
<text x="107.80" y="643.85" font-size="3.2" text-anchor="middle" font-weight="bold" fill="#000">4713</text>
<text x="13.95" y="653.50" font-size="2.9" text-anchor="middle" fill="#333">43</text>
<text x="52.50" y="651.62" font-size="3.0" text-anchor="middle" fill="#222">Устройство хозяйственная, площадок отдыха,</text>
<text x="52.50" y="655.38" font-size="3.0" text-anchor="middle" fill="#222">спортивных площадок, для игр детей,</text>
<text x="93.95" y="653.60" font-size="3.1" text-anchor="middle" font-weight="bold" fill="#000">м2</text>
<text x="107.80" y="653.60" font-size="3.2" text-anchor="middle" font-weight="bold" fill="#000">2490</text>
<text x="13.95" y="666.25" font-size="2.9" text-anchor="middle" fill="#333">44</text>
<text x="52.50" y="664.38" font-size="3.0" text-anchor="middle" fill="#222">Устройство наружних сетей глубокого заложения</text>
<text x="52.50" y="668.12" font-size="3.0" text-anchor="middle" fill="#222">(водопровод, канализация,водосток)</text>
<text x="102.35" y="666.40" font-size="3.5" text-anchor="middle" font-weight="bold" fill="#000">комплекс</text>
<text x="13.95" y="679.00" font-size="2.9" text-anchor="middle" fill="#333">45</text>
<text x="52.50" y="677.12" font-size="3.0" text-anchor="middle" fill="#222">Устройство наружних сетей 0.4 кВщ и сетей</text>
<text x="52.50" y="680.88" font-size="3.0" text-anchor="middle" fill="#222">связи</text>
<text x="102.35" y="679.15" font-size="3.5" text-anchor="middle" font-weight="bold" fill="#000">комплекс</text>
<text x="13.95" y="688.80" font-size="2.9" text-anchor="middle" fill="#333">46</text>
<text x="17.30" y="688.55" font-size="3.0" text-anchor="start" fill="#222">Пусконаладочные работы</text>
<text x="102.35" y="688.95" font-size="3.5" text-anchor="middle" font-weight="bold" fill="#000">комплекс</text>
<text x="13.95" y="697.30" font-size="2.9" text-anchor="middle" fill="#333">47</text>
<text x="17.30" y="697.05" font-size="3.0" text-anchor="start" fill="#222">Получение актов ЗОС и Ввод</text>
<text x="102.35" y="697.45" font-size="3.5" text-anchor="middle" font-weight="bold" fill="#000">комплекс</text>
<text x="449.20" y="102.20" font-size="5.44" text-anchor="middle" font-weight="bold" fill="#000">ГРАФИК ПРОИЗВОДСТВА СТРОИТЕЛЬНО-МОНТАЖНЫХ РАБОТ</text>
<text x="448.90" y="108.90" font-size="4.05" text-anchor="middle" font-weight="bold" fill="#000">НА ОБЪЕКТЕ: ЖК "Царицыно"</text>
<text x="448.90" y="115.20" font-size="4.05" text-anchor="middle" font-weight="bold" fill="#000">ПО АДРЕСУ: Москва , ул 6-я радиальная</text>
<text x="448.60" y="122.10" font-size="5.2" text-anchor="middle" fill="#000">корпус 5.2</text>
<text x="786.60" y="46.70" font-size="5.65" text-anchor="middle" fill="#000">Согласовано:</text>
<text x="786.40" y="57.40" font-size="4.43" text-anchor="middle" fill="#000">Комитет города Москвы по обеспечению реализации инвестиционных</text>
<text x="786.40" y="63.00" font-size="4.245" text-anchor="middle" fill="#000">проектов в строительстве и контролю в области долевого строительства</text>
<text x="786.30" y="67.80" font-size="4.27" text-anchor="middle" fill="#000">(Москомстройинвест)</text>
<text x="808.00" y="79.00" font-size="4.7" text-anchor="start" font-weight="bold" fill="#000">А.Н.Пятова</text>
<text x="109.20" y="47.80" font-size="3.3" text-anchor="middle" fill="#333">Утверждаю:</text>
<text x="109.90" y="51.60" font-size="3.7" text-anchor="middle" fill="#333">Генеральный  директор  АО "Мосотделстрой №1"</text>
<text x="129.00" y="56.00" font-size="3.4" text-anchor="start" fill="#333">В.Н.Егоров</text>
</g>
</svg>
</body></html>
